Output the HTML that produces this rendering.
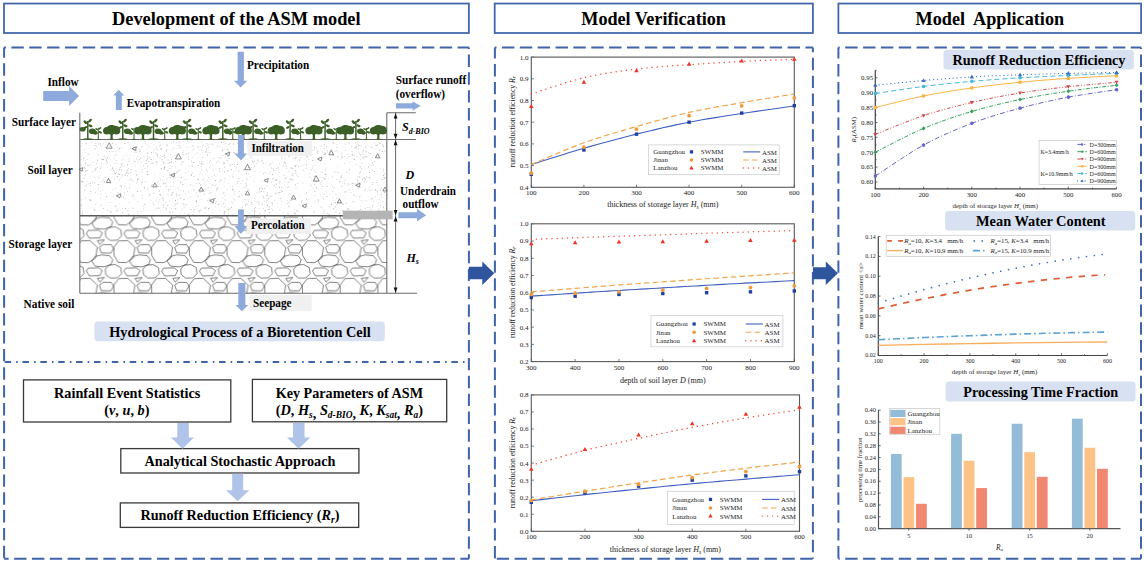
<!DOCTYPE html>
<html><head><meta charset="utf-8"><title>ASM model</title><style>html,body{margin:0;padding:0;background:#fff;overflow:hidden}svg{display:block}</style></head><body>
<svg width="1144" height="561" viewBox="0 0 1144 561" font-family="'Liberation Serif','Times New Roman',serif">
<rect width="1144" height="561" fill="#fff"/>
<defs>
<pattern id="stone" patternUnits="userSpaceOnUse" x="79.8" y="216.4" width="37.7" height="37.7"><path d="M12 7.1L15.2 2.4L21.7 0.8L29.7 1.6L32.9 5.6L31.3 10.4L24.1 12.8L15.2 12ZM6.5 17L8.5 14L19 13.8L22.5 16.5L20 21.5L9.5 21.8ZM-12.2 15L-8.7 11L-2.2 10.5L3.3 13.5L4.1 19.5L-0.2 23.8L-7.2 24L-11.7 20.5ZM25.5 15L29 11L35.5 10.5L41 13.5L41.8 19.5L37.5 23.8L30.5 24L26 20.5ZM17.6 24.2L24.6 23.5L20 28ZM19.5 31L23.5 28.2L31.5 28.3L33.8 32L31 36.8L21.5 36.5ZM-3.7 -6.7L1.3 -13.2L10.3 -13.5L17.5 -6.7L15.8 3.8L8.8 8.6L0.8 8.3L-3.4 1.3ZM-3.7 31L1.3 24.5L10.3 24.2L17.5 31L15.8 41.5L8.8 46.3L0.8 46L-3.4 39ZM34 -6.7L39 -13.2L48 -13.5L55.2 -6.7L53.5 3.8L46.5 8.6L38.5 8.3L34.3 1.3ZM34 31L39 24.5L48 24.2L55.2 31L53.5 41.5L46.5 46.3L38.5 46L34.3 39Z" fill="none" stroke="#1a1a1a" stroke-width="0.55"/></pattern>
</defs>
<rect x="4" y="3.55" width="464.9" height="29.45" fill="none" stroke="#3f64aa" stroke-width="1.75"/>
<text x="236.3" y="24.7" font-size="18.2" text-anchor="middle" font-weight="bold" textLength="248.6" lengthAdjust="spacingAndGlyphs">Development of the ASM model</text>
<rect x="494.7" y="3.55" width="318.2" height="29.45" fill="none" stroke="#3f64aa" stroke-width="1.75"/>
<text x="653.6" y="24.7" font-size="18.2" text-anchor="middle" font-weight="bold" textLength="144.7" lengthAdjust="spacingAndGlyphs">Model Verification</text>
<rect x="838.4" y="3.55" width="302.7" height="29.45" fill="none" stroke="#3f64aa" stroke-width="1.75"/>
<text x="989.8" y="24.7" font-size="18.2" text-anchor="middle" font-weight="bold" textLength="148.6" lengthAdjust="spacingAndGlyphs">Model&#160; Application</text>
<path d="M4.1 47.5H5.95M11.4 47.5H23.8M29.25 47.5H41.65M47.1 47.5H59.5M64.95 47.5H77.35M82.8 47.5H95.2M100.65 47.5H113.05M118.5 47.5H130.9M136.35 47.5H148.75M154.2 47.5H166.6M172.05 47.5H184.45M189.9 47.5H202.3M207.75 47.5H220.15M225.6 47.5H238M243.45 47.5H255.85M261.3 47.5H273.7M279.15 47.5H291.55M297 47.5H309.4M314.85 47.5H327.25M332.7 47.5H345.1M350.55 47.5H362.95M368.4 47.5H380.8M386.25 47.5H398.65M404.1 47.5H416.5M421.95 47.5H434.35M439.8 47.5H452.2M457.65 47.5H468.9M468.9 47.5V49.05M468.9 54.5V66.9M468.9 72.35V84.75M468.9 90.2V102.6M468.9 108.05V120.45M468.9 125.9V138.3M468.9 143.75V156.15M468.9 161.6V174M468.9 179.45V191.85M468.9 197.3V209.7M468.9 215.15V227.55M468.9 233V245.4M468.9 250.85V263.25M468.9 268.7V281.1M468.9 286.55V298.95M468.9 304.4V316.8M468.9 322.25V334.65M468.9 340.1V352.5M468.9 357.95V370.35M468.9 375.8V388.2M468.9 393.65V406.05M468.9 411.5V423.9M468.9 429.35V441.75M468.9 447.2V459.6M468.9 465.05V477.45M468.9 482.9V495.3M468.9 500.75V513.15M468.9 518.6V531M468.9 536.45V548.85M468.9 554.3V558.7M4.1 558.7H8.65M14.1 558.7H26.5M31.95 558.7H44.35M49.8 558.7H62.2M67.65 558.7H80.05M85.5 558.7H97.9M103.35 558.7H115.75M121.2 558.7H133.6M139.05 558.7H151.45M156.9 558.7H169.3M174.75 558.7H187.15M192.6 558.7H205M210.45 558.7H222.85M228.3 558.7H240.7M246.15 558.7H258.55M264 558.7H276.4M281.85 558.7H294.25M299.7 558.7H312.1M317.55 558.7H329.95M335.4 558.7H347.8M353.25 558.7H365.65M371.1 558.7H383.5M388.95 558.7H401.35M406.8 558.7H419.2M424.65 558.7H437.05M442.5 558.7H454.9M460.35 558.7H468.9M4.1 47.5V57.85M4.1 63.3V75.7M4.1 81.15V93.55M4.1 99V111.4M4.1 116.85V129.25M4.1 134.7V147.1M4.1 152.55V164.95M4.1 170.4V182.8M4.1 188.25V200.65M4.1 206.1V218.5M4.1 223.95V236.35M4.1 241.8V254.2M4.1 259.65V272.05M4.1 277.5V289.9M4.1 295.35V307.75M4.1 313.2V325.6M4.1 331.05V343.45M4.1 348.9V361.3M4.1 367.3V379.7M4.1 385.15V397.55M4.1 403V415.4M4.1 420.85V433.25M4.1 438.7V451.1M4.1 456.55V468.95M4.1 474.4V486.8M4.1 492.25V504.65M4.1 510.1V522.5M4.1 527.95V540.35M4.1 545.8V558.2M494.9 47.5H496.55M502 47.5H514.4M519.85 47.5H532.25M537.7 47.5H550.1M555.55 47.5H567.95M573.4 47.5H585.8M591.25 47.5H603.65M609.1 47.5H621.5M626.95 47.5H639.35M644.8 47.5H657.2M662.65 47.5H675.05M680.5 47.5H692.9M698.35 47.5H710.75M716.2 47.5H728.6M734.05 47.5H746.45M751.9 47.5H764.3M769.75 47.5H782.15M787.6 47.5H800M805.45 47.5H812.9M812.9 47.5V52.35M812.9 57.8V70.2M812.9 75.65V88.05M812.9 93.5V105.9M812.9 111.35V123.75M812.9 129.2V141.6M812.9 147.05V159.45M812.9 164.9V177.3M812.9 182.75V195.15M812.9 200.6V213M812.9 218.45V230.85M812.9 236.3V248.7M812.9 254.15V266.55M812.9 272V284.4M812.9 289.85V302.25M812.9 307.7V320.1M812.9 325.55V337.95M812.9 343.4V355.8M812.9 361.25V373.65M812.9 379.1V391.5M812.9 396.95V409.35M812.9 414.8V427.2M812.9 432.65V445.05M812.9 450.5V462.9M812.9 468.35V480.75M812.9 486.2V498.6M812.9 504.05V516.45M812.9 521.9V534.3M812.9 539.75V552.15M812.9 557.6V558.7M496.75 558.7H509.15M514.6 558.7H527M532.45 558.7H544.85M550.3 558.7H562.7M568.15 558.7H580.55M586 558.7H598.4M603.85 558.7H616.25M621.7 558.7H634.1M639.55 558.7H651.95M657.4 558.7H669.8M675.25 558.7H687.65M693.1 558.7H705.5M710.95 558.7H723.35M728.8 558.7H741.2M746.65 558.7H759.05M764.5 558.7H776.9M782.35 558.7H794.75M800.2 558.7H812.6M494.9 47.5V58.6M494.9 64.05V76.45M494.9 81.9V94.3M494.9 99.75V112.15M494.9 117.6V130M494.9 135.45V147.85M494.9 153.3V165.7M494.9 171.15V183.55M494.9 189V201.4M494.9 206.85V219.25M494.9 224.7V237.1M494.9 242.55V254.95M494.9 260.4V272.8M494.9 278.25V290.65M494.9 296.1V308.5M494.9 313.95V326.35M494.9 331.8V344.2M494.9 349.65V362.05M494.9 367.5V379.9M494.9 385.35V397.75M494.9 403.2V415.6M494.9 421.05V433.45M494.9 438.9V451.3M494.9 456.75V469.15M494.9 474.6V487M494.9 492.45V504.85M494.9 510.3V522.7M494.9 528.15V540.55M494.9 546V558.4M838.4 47.5H839.75M845.2 47.5H857.6M863.05 47.5H875.45M880.9 47.5H893.3M898.75 47.5H911.15M916.6 47.5H929M934.45 47.5H946.85M952.3 47.5H964.7M970.15 47.5H982.55M988 47.5H1000.4M1005.85 47.5H1018.25M1023.7 47.5H1036.1M1041.55 47.5H1053.95M1059.4 47.5H1071.8M1077.25 47.5H1089.65M1095.1 47.5H1107.5M1112.95 47.5H1125.35M1130.8 47.5H1141M1141 47.5V49.05M1141 54.5V66.9M1141 72.35V84.75M1141 90.2V102.6M1141 108.05V120.45M1141 125.9V138.3M1141 143.75V156.15M1141 161.6V174M1141 179.45V191.85M1141 197.3V209.7M1141 215.15V227.55M1141 233V245.4M1141 250.85V263.25M1141 268.7V281.1M1141 286.55V298.95M1141 304.4V316.8M1141 322.25V334.65M1141 340.1V352.5M1141 357.95V370.35M1141 375.8V388.2M1141 393.65V406.05M1141 411.5V423.9M1141 429.35V441.75M1141 447.2V459.6M1141 465.05V477.45M1141 482.9V495.3M1141 500.75V513.15M1141 518.6V531M1141 536.45V548.85M1141 554.3V558.7M838.4 558.7H839.75M845.2 558.7H857.6M863.05 558.7H875.45M880.9 558.7H893.3M898.75 558.7H911.15M916.6 558.7H929M934.45 558.7H946.85M952.3 558.7H964.7M970.15 558.7H982.55M988 558.7H1000.4M1005.85 558.7H1018.25M1023.7 558.7H1036.1M1041.55 558.7H1053.95M1059.4 558.7H1071.8M1077.25 558.7H1089.65M1095.1 558.7H1107.5M1112.95 558.7H1125.35M1130.8 558.7H1141M838.4 47.5V58.6M838.4 64.05V76.45M838.4 81.9V94.3M838.4 99.75V112.15M838.4 117.6V130M838.4 135.45V147.85M838.4 153.3V165.7M838.4 171.15V183.55M838.4 189V201.4M838.4 206.85V219.25M838.4 224.7V237.1M838.4 242.55V254.95M838.4 260.4V272.8M838.4 278.25V290.65M838.4 296.1V308.5M838.4 313.95V326.35M838.4 331.8V344.2M838.4 349.65V362.05M838.4 367.5V379.9M838.4 385.35V397.75M838.4 403.2V415.6M838.4 421.05V433.45M838.4 438.9V451.3M838.4 456.75V469.15M838.4 474.6V487M838.4 492.45V504.85M838.4 510.3V522.7M838.4 528.15V540.55M838.4 546V558.4" fill="none" stroke="#3f64aa" stroke-width="2.0"/>
<path d="M4.63 362H11.13M22.5 362H29M40.37 362H46.87M58.24 362H64.74M76.11 362H82.61M93.98 362H100.48M111.85 362H118.35M129.72 362H136.22M147.59 362H154.09M165.46 362H171.96M183.33 362H189.83M201.2 362H207.7M219.07 362H225.57M236.94 362H243.44M254.81 362H261.31M272.68 362H279.18M290.55 362H297.05M308.42 362H314.92M326.29 362H332.79M344.16 362H350.66M362.03 362H368.53M379.9 362H386.4M397.77 362H404.27M415.64 362H422.14M433.51 362H440.01M451.38 362H457.88M16.2 362H17.8M34.07 362H35.67M51.94 362H53.54M69.81 362H71.41M87.68 362H89.28M105.55 362H107.15M123.42 362H125.02M141.29 362H142.89M159.16 362H160.76M177.03 362H178.63M194.9 362H196.5M212.77 362H214.37M230.64 362H232.24M248.51 362H250.11M266.38 362H267.98M284.25 362H285.85M302.12 362H303.72M319.99 362H321.59M337.86 362H339.46M355.73 362H357.33M373.6 362H375.2M391.47 362H393.07M409.34 362H410.94M427.21 362H428.81M445.08 362H446.68M462.95 362H464.5" fill="none" stroke="#3f64aa" stroke-width="2.1"/>
<path d="M468.9 266.8H482.3V261.5L494.3 273.2L482.3 284.9V279.3H468.9Z" fill="#2f559f"/>
<path d="M812.9 267.3H825.8V261.5L837.9 273.3L825.8 285.1V279.3H812.9Z" fill="#2f559f"/>
<path d="M218.78 182.31h0.7v0.7h-0.7zM218.61 204.1h0.6v0.6h-0.6zM137.12 178.78h0.9v0.9h-0.9zM268.06 154.74h0.7v0.7h-0.7zM173.34 147.69h0.9v0.9h-0.9zM274.31 184.94h0.7v0.7h-0.7zM375.05 189.26h0.9v0.9h-0.9zM279.07 186.99h0.9v0.9h-0.9zM100.07 143.63h0.6v0.6h-0.6zM263.68 198.42h0.7v0.7h-0.7zM215.16 203.17h0.9v0.9h-0.9zM152.06 162.71h0.6v0.6h-0.6zM282.85 174.75h0.7v0.7h-0.7zM204.87 181.68h0.6v0.6h-0.6zM296.68 164.27h0.6v0.6h-0.6zM237.23 143.2h0.9v0.9h-0.9zM314.52 170.55h0.7v0.7h-0.7zM198.69 211.7h0.9v0.9h-0.9zM80.97 156.48h0.6v0.6h-0.6zM224.15 213.35h0.7v0.7h-0.7zM208.84 182.79h0.6v0.6h-0.6zM318.25 160.91h0.6v0.6h-0.6zM175.72 142.12h0.7v0.7h-0.7zM312 149.71h0.6v0.6h-0.6zM296.44 141.81h0.7v0.7h-0.7zM323.89 154.11h0.9v0.9h-0.9zM138.26 178.55h0.9v0.9h-0.9zM315.5 171.94h0.7v0.7h-0.7zM116.33 172.05h0.6v0.6h-0.6zM80.94 204.79h0.9v0.9h-0.9zM173.56 206.3h0.6v0.6h-0.6zM137.93 214.49h0.9v0.9h-0.9zM276.56 148.4h0.6v0.6h-0.6zM145.84 160.06h0.9v0.9h-0.9zM181.13 162.87h0.6v0.6h-0.6zM103.46 156.4h0.9v0.9h-0.9zM154.92 185.37h0.7v0.7h-0.7zM270.56 150.39h0.9v0.9h-0.9zM228.34 183.4h0.7v0.7h-0.7zM136.56 152.38h0.6v0.6h-0.6zM330.23 159.41h0.6v0.6h-0.6zM129.14 187.42h0.9v0.9h-0.9zM140.76 211.12h0.7v0.7h-0.7zM264.88 172.1h0.6v0.6h-0.6zM114.06 178.81h0.7v0.7h-0.7zM153.51 193h0.7v0.7h-0.7zM209.15 207.78h0.7v0.7h-0.7zM170.3 153.95h0.9v0.9h-0.9zM378.84 150.33h0.7v0.7h-0.7zM251.41 203.91h0.9v0.9h-0.9zM103.41 156.68h0.6v0.6h-0.6zM309.24 146.1h0.7v0.7h-0.7zM216.74 145.46h0.6v0.6h-0.6zM166.8 180.19h0.6v0.6h-0.6zM108.92 151.21h0.7v0.7h-0.7zM379.85 189.48h0.9v0.9h-0.9zM239.99 210.88h0.9v0.9h-0.9zM91.5 142.32h0.7v0.7h-0.7zM294.6 212.05h0.6v0.6h-0.6zM263.3 146.52h0.6v0.6h-0.6zM303.6 164.54h0.6v0.6h-0.6zM103.76 181.3h0.9v0.9h-0.9zM94.36 210.1h0.9v0.9h-0.9zM295.43 199.54h0.7v0.7h-0.7zM188.11 191.56h0.6v0.6h-0.6zM346.49 171.79h0.6v0.6h-0.6zM344.16 183.27h0.9v0.9h-0.9zM282.79 168.98h0.6v0.6h-0.6zM266.5 146.92h0.9v0.9h-0.9zM116.05 159.98h0.7v0.7h-0.7zM302.9 169.67h0.9v0.9h-0.9zM292.52 174.78h0.7v0.7h-0.7zM336.5 147.18h0.9v0.9h-0.9zM89.89 185.37h0.7v0.7h-0.7zM87.6 211.66h0.6v0.6h-0.6zM232.46 186.35h0.7v0.7h-0.7zM158.83 141.83h0.7v0.7h-0.7zM124.48 186.15h0.9v0.9h-0.9zM132.53 207.84h0.9v0.9h-0.9zM364.54 177.78h0.6v0.6h-0.6zM180.52 190.14h0.6v0.6h-0.6zM274.22 200.31h0.6v0.6h-0.6zM349.28 169.37h0.9v0.9h-0.9zM361.65 156.49h0.6v0.6h-0.6zM232.22 202.78h0.6v0.6h-0.6zM297.72 211.11h0.7v0.7h-0.7zM331.47 149.33h0.7v0.7h-0.7zM164.72 156.8h0.7v0.7h-0.7zM197.48 179.37h0.9v0.9h-0.9zM176.99 202.93h0.9v0.9h-0.9zM218.81 146.51h0.6v0.6h-0.6zM165.63 185.84h0.9v0.9h-0.9zM296.93 183.11h0.7v0.7h-0.7zM278.83 182.63h0.9v0.9h-0.9zM122.24 174.57h0.6v0.6h-0.6zM315.41 160.66h0.6v0.6h-0.6zM323.84 213.62h0.6v0.6h-0.6zM216.98 187.49h0.9v0.9h-0.9zM275.97 168.21h0.6v0.6h-0.6zM289.57 155.71h0.7v0.7h-0.7zM158.89 193.71h0.7v0.7h-0.7zM243.93 143.67h0.6v0.6h-0.6zM163.87 166.52h0.9v0.9h-0.9zM369.58 177.93h0.6v0.6h-0.6zM200.82 199.44h0.6v0.6h-0.6zM107.4 209.83h0.9v0.9h-0.9zM199.13 174.25h0.6v0.6h-0.6zM271.59 208.16h0.7v0.7h-0.7zM248.55 189.17h0.9v0.9h-0.9zM323.81 210.69h0.7v0.7h-0.7zM180.37 213.5h0.6v0.6h-0.6zM300.99 201.39h0.9v0.9h-0.9zM362.69 150.11h0.6v0.6h-0.6zM355.3 213.36h0.7v0.7h-0.7zM244.57 199.36h0.7v0.7h-0.7zM160.67 194.01h0.6v0.6h-0.6zM187.09 147.11h0.7v0.7h-0.7zM185.13 172.1h0.7v0.7h-0.7zM229.47 143.1h0.6v0.6h-0.6zM211.62 143.59h0.9v0.9h-0.9zM182.98 199.15h0.6v0.6h-0.6zM224.32 214.79h0.9v0.9h-0.9zM238.85 191.03h0.7v0.7h-0.7zM369.25 177.35h0.9v0.9h-0.9zM107.04 157.34h0.9v0.9h-0.9zM251.23 202.34h0.9v0.9h-0.9zM275.66 179.58h0.9v0.9h-0.9zM159.04 190.54h0.9v0.9h-0.9zM144.31 203.79h0.9v0.9h-0.9zM240.69 183.29h0.6v0.6h-0.6zM206.18 149.43h0.6v0.6h-0.6zM265.39 143.05h0.6v0.6h-0.6zM238.19 170.56h0.9v0.9h-0.9zM117.99 147.88h0.6v0.6h-0.6zM100.9 180.76h0.7v0.7h-0.7zM361.64 200.07h0.7v0.7h-0.7zM162.91 175.92h0.6v0.6h-0.6zM184.4 207.49h0.7v0.7h-0.7zM240.92 149.02h0.7v0.7h-0.7zM269.26 209.28h0.6v0.6h-0.6zM294.94 213.12h0.6v0.6h-0.6zM140 157.77h0.9v0.9h-0.9zM167.44 194.4h0.6v0.6h-0.6zM269.83 148.74h0.9v0.9h-0.9zM258.38 203.87h0.9v0.9h-0.9zM157.22 155.59h0.9v0.9h-0.9zM348.81 142.72h0.9v0.9h-0.9zM206.89 180.07h0.6v0.6h-0.6zM244.95 204.75h0.9v0.9h-0.9zM275.53 180.09h0.9v0.9h-0.9zM267.37 204.23h0.6v0.6h-0.6zM359.82 187.34h0.7v0.7h-0.7zM356.12 164.31h0.7v0.7h-0.7zM352.45 155.37h0.6v0.6h-0.6zM351.5 150.88h0.6v0.6h-0.6zM121.23 147.51h0.7v0.7h-0.7zM110.39 202.41h0.7v0.7h-0.7zM246.5 193.02h0.6v0.6h-0.6zM203.65 191.57h0.6v0.6h-0.6zM110.1 183.06h0.7v0.7h-0.7zM358.77 212.47h0.6v0.6h-0.6zM295.74 187.84h0.7v0.7h-0.7zM234.15 191.6h0.6v0.6h-0.6zM325.67 176.58h0.6v0.6h-0.6zM92.22 181.71h0.9v0.9h-0.9zM356.86 176.52h0.6v0.6h-0.6zM137.08 156.05h0.6v0.6h-0.6zM382.84 209.4h0.6v0.6h-0.6zM257.63 150.92h0.9v0.9h-0.9zM221.73 197.44h0.7v0.7h-0.7zM200.02 172.47h0.7v0.7h-0.7zM211.97 185.35h0.6v0.6h-0.6zM274.17 144.02h0.6v0.6h-0.6zM136.09 174.5h0.9v0.9h-0.9zM193.71 209.03h0.9v0.9h-0.9zM131.15 178.83h0.6v0.6h-0.6zM179.53 147.26h0.9v0.9h-0.9zM347.87 208.07h0.7v0.7h-0.7zM254.55 155.09h0.9v0.9h-0.9zM380.52 200.4h0.7v0.7h-0.7zM166.05 149.58h0.9v0.9h-0.9zM318.09 201.12h0.7v0.7h-0.7zM121.43 165.35h0.9v0.9h-0.9zM292.71 197.62h0.6v0.6h-0.6zM204.55 194.33h0.6v0.6h-0.6zM323.99 163.26h0.6v0.6h-0.6zM84.03 167.25h0.9v0.9h-0.9zM356.12 144.66h0.7v0.7h-0.7zM368.93 190.16h0.7v0.7h-0.7zM146.69 170.97h0.6v0.6h-0.6zM243.39 169.75h0.7v0.7h-0.7zM276.69 192.75h0.7v0.7h-0.7zM379.73 142.68h0.9v0.9h-0.9zM113.76 158.49h0.7v0.7h-0.7zM203.27 144.72h0.6v0.6h-0.6zM278.44 141.8h0.7v0.7h-0.7zM157.32 207.84h0.9v0.9h-0.9zM245.65 171.68h0.9v0.9h-0.9zM254.03 214.44h0.9v0.9h-0.9zM216.32 188.58h0.9v0.9h-0.9zM263.05 197.03h0.6v0.6h-0.6zM198.66 210.27h0.7v0.7h-0.7zM224.69 153.48h0.7v0.7h-0.7zM246.1 185.03h0.7v0.7h-0.7zM369.11 172.05h0.9v0.9h-0.9zM202.36 164.05h0.9v0.9h-0.9zM167.95 189.35h0.9v0.9h-0.9zM364.29 189.97h0.9v0.9h-0.9zM171.09 142.03h0.6v0.6h-0.6zM259.47 187.71h0.7v0.7h-0.7zM310.97 169.78h0.7v0.7h-0.7zM309.05 144.7h0.9v0.9h-0.9zM368.86 146.42h0.6v0.6h-0.6zM211.8 176.25h0.6v0.6h-0.6zM94.66 148.27h0.9v0.9h-0.9zM358.19 151.65h0.6v0.6h-0.6zM264.91 149.49h0.9v0.9h-0.9zM208.03 149.71h0.6v0.6h-0.6zM189.59 152.42h0.7v0.7h-0.7zM215.87 190.29h0.7v0.7h-0.7zM264.12 188.2h0.9v0.9h-0.9zM208.76 198.41h0.9v0.9h-0.9zM329.42 151.11h0.7v0.7h-0.7zM304.76 158.59h0.6v0.6h-0.6zM234.2 163.77h0.9v0.9h-0.9zM271.42 167.51h0.7v0.7h-0.7zM266.79 194.51h0.9v0.9h-0.9zM261.26 187.72h0.6v0.6h-0.6zM138.69 159.37h0.9v0.9h-0.9zM360.1 205.85h0.6v0.6h-0.6zM272.46 141.7h0.7v0.7h-0.7zM210.48 187h0.6v0.6h-0.6zM148.68 161.54h0.6v0.6h-0.6zM359.23 152.87h0.6v0.6h-0.6zM273.29 168.54h0.7v0.7h-0.7zM188.8 165.96h0.7v0.7h-0.7zM307.97 202.89h0.6v0.6h-0.6zM325.49 174.01h0.9v0.9h-0.9zM336.39 197.75h0.7v0.7h-0.7zM210.23 160.05h0.6v0.6h-0.6zM193.33 189.24h0.9v0.9h-0.9zM180.04 181.49h0.9v0.9h-0.9zM332.78 154.57h0.9v0.9h-0.9zM193.42 148.16h0.7v0.7h-0.7zM104.74 147.13h0.9v0.9h-0.9zM254.03 201.17h0.7v0.7h-0.7zM171.96 198.23h0.6v0.6h-0.6zM175.39 208.21h0.9v0.9h-0.9zM105.72 163.42h0.9v0.9h-0.9zM313.87 165.2h0.6v0.6h-0.6zM147.52 189.51h0.7v0.7h-0.7zM192.55 149.66h0.9v0.9h-0.9zM215.3 184.89h0.9v0.9h-0.9zM359.38 173.32h0.7v0.7h-0.7zM220.57 157.33h0.9v0.9h-0.9zM353.69 159.32h0.7v0.7h-0.7zM333.5 142.78h0.9v0.9h-0.9zM201.46 169.6h0.6v0.6h-0.6zM306.14 168.18h0.7v0.7h-0.7zM245.67 202.72h0.9v0.9h-0.9zM134.87 147.62h0.7v0.7h-0.7zM349.47 161.77h0.6v0.6h-0.6zM148.28 145.26h0.6v0.6h-0.6zM253.88 212.32h0.9v0.9h-0.9zM337.51 172.2h0.9v0.9h-0.9zM247.58 199.16h0.6v0.6h-0.6zM182.83 161.19h0.6v0.6h-0.6zM355.02 147.25h0.9v0.9h-0.9zM280.13 148.19h0.9v0.9h-0.9zM209.53 193.56h0.7v0.7h-0.7zM314.23 179.49h0.7v0.7h-0.7zM201.09 165.93h0.7v0.7h-0.7zM285.88 177.43h0.9v0.9h-0.9zM326.26 146.35h0.9v0.9h-0.9zM359.87 171.3h0.9v0.9h-0.9zM187.3 141.29h0.7v0.7h-0.7zM335.12 206.58h0.9v0.9h-0.9zM276.08 179.66h0.9v0.9h-0.9zM83.9 149.11h0.7v0.7h-0.7zM360.05 159.13h0.6v0.6h-0.6zM383.06 168.71h0.6v0.6h-0.6zM178.67 169.73h0.9v0.9h-0.9zM169.87 212.57h0.6v0.6h-0.6zM224.59 194.93h0.7v0.7h-0.7zM278.43 198.26h0.6v0.6h-0.6zM359.02 196.58h0.6v0.6h-0.6zM258.94 208.11h0.6v0.6h-0.6zM176.13 155.58h0.7v0.7h-0.7zM147.1 158.37h0.9v0.9h-0.9zM224.73 178.54h0.7v0.7h-0.7zM137.22 161.74h0.6v0.6h-0.6zM358.56 210.18h0.9v0.9h-0.9zM248.01 201.3h0.7v0.7h-0.7zM341.08 176.78h0.7v0.7h-0.7zM359.65 166.25h0.9v0.9h-0.9zM316.16 147.82h0.6v0.6h-0.6zM202.62 157.05h0.6v0.6h-0.6zM325.23 169.41h0.9v0.9h-0.9zM323.19 198.13h0.6v0.6h-0.6zM281.35 158.54h0.6v0.6h-0.6zM347.39 207.81h0.7v0.7h-0.7zM323.82 193.64h0.9v0.9h-0.9zM347.62 171.68h0.7v0.7h-0.7zM124.95 208.02h0.9v0.9h-0.9zM120.79 195.74h0.9v0.9h-0.9zM162.09 180.45h0.6v0.6h-0.6zM255.22 154.16h0.6v0.6h-0.6zM331.33 203.45h0.6v0.6h-0.6zM105.94 160.92h0.9v0.9h-0.9zM241.82 206.66h0.9v0.9h-0.9zM223.74 211.52h0.9v0.9h-0.9zM246.54 178.34h0.6v0.6h-0.6zM321.54 171.77h0.9v0.9h-0.9zM108.54 201.98h0.6v0.6h-0.6zM92.15 171.49h0.7v0.7h-0.7zM128.85 202.4h0.7v0.7h-0.7zM177.21 170.92h0.9v0.9h-0.9zM174.04 175.48h0.9v0.9h-0.9zM101.25 146.49h0.6v0.6h-0.6zM113.05 170.09h0.7v0.7h-0.7zM308.52 198.89h0.6v0.6h-0.6zM280.25 141.91h0.7v0.7h-0.7zM297.89 176.07h0.7v0.7h-0.7zM252.86 174.81h0.6v0.6h-0.6zM341.9 203.32h0.9v0.9h-0.9zM143.85 186.47h0.7v0.7h-0.7zM272.27 210.18h0.9v0.9h-0.9zM171.75 165.9h0.7v0.7h-0.7zM250.25 147.42h0.6v0.6h-0.6zM141.78 194.98h0.7v0.7h-0.7zM175.26 161.21h0.7v0.7h-0.7zM301.56 165.48h0.7v0.7h-0.7zM108.94 151.39h0.6v0.6h-0.6zM120.89 187.52h0.6v0.6h-0.6zM135.66 170.69h0.7v0.7h-0.7zM261.59 147.65h0.6v0.6h-0.6zM90.67 213.87h0.7v0.7h-0.7zM204.89 146.36h0.7v0.7h-0.7zM363.5 151.26h0.6v0.6h-0.6zM314.69 201.6h0.7v0.7h-0.7zM228.04 208.99h0.9v0.9h-0.9zM85.5 170.57h0.9v0.9h-0.9zM177.7 199.21h0.6v0.6h-0.6zM282.17 185.91h0.6v0.6h-0.6zM160.32 154.93h0.7v0.7h-0.7zM279.27 148.84h0.7v0.7h-0.7zM143.29 165.56h0.7v0.7h-0.7zM332.48 186.12h0.6v0.6h-0.6zM158.23 180.77h0.7v0.7h-0.7zM248.02 167.02h0.9v0.9h-0.9zM237.4 183.37h0.6v0.6h-0.6zM381.77 179.08h0.9v0.9h-0.9zM296.38 210.07h0.9v0.9h-0.9zM368.99 187.28h0.6v0.6h-0.6zM317.67 151.06h0.7v0.7h-0.7zM256.63 192.45h0.7v0.7h-0.7zM108.79 205.39h0.7v0.7h-0.7zM222.03 150.15h0.9v0.9h-0.9zM122.16 207.72h0.9v0.9h-0.9zM247.38 145.69h0.7v0.7h-0.7zM132.2 196.03h0.7v0.7h-0.7zM264.26 150.05h0.6v0.6h-0.6zM168.82 207.2h0.6v0.6h-0.6zM312.09 167.8h0.6v0.6h-0.6zM137.4 181.43h0.6v0.6h-0.6zM219.38 170.77h0.9v0.9h-0.9zM122.97 196.8h0.9v0.9h-0.9zM357.27 186.4h0.9v0.9h-0.9zM325.96 142.21h0.6v0.6h-0.6zM206.46 143.44h0.9v0.9h-0.9zM198.65 183.03h0.6v0.6h-0.6zM183.35 150.7h0.6v0.6h-0.6zM254.05 165.51h0.9v0.9h-0.9zM319.91 194.26h0.6v0.6h-0.6zM203.77 177.72h0.6v0.6h-0.6zM224.12 171.36h0.9v0.9h-0.9zM359.28 182.68h0.7v0.7h-0.7zM310.07 176.85h0.7v0.7h-0.7zM336.46 204.1h0.7v0.7h-0.7zM332.46 149.66h0.6v0.6h-0.6zM356.9 179.82h0.9v0.9h-0.9zM239.61 172.02h0.6v0.6h-0.6zM178.61 145.04h0.9v0.9h-0.9zM268.74 172.97h0.7v0.7h-0.7zM263.04 196.49h0.7v0.7h-0.7zM349.99 205.73h0.6v0.6h-0.6zM118.76 173.99h0.9v0.9h-0.9zM347.08 212.77h0.7v0.7h-0.7zM292.75 179.84h0.6v0.6h-0.6zM247.02 189.48h0.6v0.6h-0.6zM349.12 214.75h0.9v0.9h-0.9zM375.57 190.13h0.9v0.9h-0.9zM209.33 200.43h0.6v0.6h-0.6zM278.9 172.11h0.6v0.6h-0.6zM356.34 148.27h0.6v0.6h-0.6zM118.56 180.67h0.7v0.7h-0.7zM80.98 159h0.7v0.7h-0.7zM88.1 153.69h0.7v0.7h-0.7zM353.81 201.18h0.7v0.7h-0.7zM123.89 192.09h0.6v0.6h-0.6zM94.8 143.3h0.7v0.7h-0.7zM174.69 177.78h0.7v0.7h-0.7zM348.81 155.96h0.9v0.9h-0.9zM354.32 155.43h0.7v0.7h-0.7zM355.1 142.18h0.9v0.9h-0.9zM349.11 214.46h0.6v0.6h-0.6zM243.39 158.43h0.6v0.6h-0.6zM279.08 163.59h0.7v0.7h-0.7zM374.01 161.21h0.7v0.7h-0.7zM298.31 150.95h0.9v0.9h-0.9zM372.67 198.48h0.7v0.7h-0.7zM104.89 157.47h0.7v0.7h-0.7zM117.6 192.01h0.7v0.7h-0.7zM136.01 158.38h0.9v0.9h-0.9zM170.92 161.17h0.9v0.9h-0.9zM240.74 149.54h0.9v0.9h-0.9zM150.64 163.21h0.6v0.6h-0.6zM284.25 161.43h0.9v0.9h-0.9zM284.48 175.15h0.6v0.6h-0.6zM215.1 179.99h0.9v0.9h-0.9zM357.56 141.51h0.9v0.9h-0.9zM167.58 159.52h0.9v0.9h-0.9zM107.39 162.04h0.6v0.6h-0.6zM155.8 161.6h0.9v0.9h-0.9zM89.59 199.33h0.6v0.6h-0.6zM382.06 143.48h0.7v0.7h-0.7zM360.31 184.17h0.6v0.6h-0.6zM364.23 177.89h0.6v0.6h-0.6zM100.33 198.33h0.7v0.7h-0.7zM178.64 176.68h0.6v0.6h-0.6zM238.4 178.32h0.9v0.9h-0.9zM289.5 179.41h0.9v0.9h-0.9zM133.85 198.54h0.6v0.6h-0.6zM114.99 173.14h0.9v0.9h-0.9zM215.13 198.05h0.9v0.9h-0.9zM322.1 158.41h0.7v0.7h-0.7zM246.77 203.92h0.9v0.9h-0.9zM232.98 143.61h0.9v0.9h-0.9zM376.84 144.88h0.7v0.7h-0.7zM347.03 154.29h0.6v0.6h-0.6zM266.33 185.91h0.7v0.7h-0.7zM234.43 194.37h0.6v0.6h-0.6zM102.92 207.96h0.9v0.9h-0.9zM275.96 183.77h0.9v0.9h-0.9zM153.38 151.79h0.7v0.7h-0.7zM210.53 192.34h0.9v0.9h-0.9zM306.03 198.62h0.9v0.9h-0.9zM232.8 188.97h0.9v0.9h-0.9zM133.14 159.81h0.6v0.6h-0.6zM232.35 189.63h0.9v0.9h-0.9zM320.74 145.51h0.7v0.7h-0.7zM223.19 192.56h0.9v0.9h-0.9zM376.81 144.11h0.7v0.7h-0.7zM311.2 185.34h0.6v0.6h-0.6zM124.9 174.6h0.9v0.9h-0.9zM381.42 141.25h0.7v0.7h-0.7zM352.28 151.45h0.7v0.7h-0.7zM250.41 175.83h0.6v0.6h-0.6zM377.15 191.17h0.9v0.9h-0.9zM313.6 195.17h0.6v0.6h-0.6zM170.99 149.77h0.6v0.6h-0.6zM208.39 147.35h0.6v0.6h-0.6zM191.82 165.87h0.9v0.9h-0.9zM147.39 152.84h0.9v0.9h-0.9zM278.99 145.32h0.7v0.7h-0.7zM253.86 208.31h0.9v0.9h-0.9zM362.59 154.08h0.7v0.7h-0.7zM366.11 156.74h0.7v0.7h-0.7zM319.11 156.9h0.7v0.7h-0.7zM155.98 199.54h0.6v0.6h-0.6zM227.26 170.54h0.9v0.9h-0.9zM223.45 163.77h0.7v0.7h-0.7zM230.32 187.25h0.6v0.6h-0.6zM343.93 156.1h0.7v0.7h-0.7zM208.65 144.48h0.7v0.7h-0.7zM191.46 161.26h0.6v0.6h-0.6zM239.07 195.73h0.9v0.9h-0.9zM200.65 209.16h0.9v0.9h-0.9zM147.15 148.63h0.6v0.6h-0.6zM127.62 210.12h0.7v0.7h-0.7zM122.61 158.78h0.6v0.6h-0.6zM87.02 164.77h0.7v0.7h-0.7zM218.03 204.07h0.7v0.7h-0.7zM180 197.88h0.9v0.9h-0.9zM284.91 163.31h0.9v0.9h-0.9zM153.48 144.01h0.6v0.6h-0.6zM237.54 150.42h0.6v0.6h-0.6zM176.05 172.3h0.9v0.9h-0.9zM292.47 179.15h0.9v0.9h-0.9zM160.22 194.54h0.9v0.9h-0.9zM195.78 205.95h0.7v0.7h-0.7zM243.97 174.16h0.6v0.6h-0.6zM198.68 204.91h0.6v0.6h-0.6zM112.1 168.34h0.9v0.9h-0.9zM146.61 144h0.6v0.6h-0.6zM308.67 176.63h0.6v0.6h-0.6zM327.47 213h0.7v0.7h-0.7zM282.23 145.94h0.6v0.6h-0.6zM251.03 167.08h0.6v0.6h-0.6zM372.12 205.09h0.6v0.6h-0.6zM319.71 160.16h0.7v0.7h-0.7zM117.34 177.38h0.7v0.7h-0.7zM197.72 165.22h0.7v0.7h-0.7zM295.32 157.36h0.7v0.7h-0.7zM142.38 197.7h0.7v0.7h-0.7zM283.69 158.7h0.6v0.6h-0.6zM307.35 207.97h0.6v0.6h-0.6zM226.68 159.97h0.9v0.9h-0.9zM174.9 208.49h0.7v0.7h-0.7zM117.5 208.13h0.7v0.7h-0.7zM163.76 168.84h0.9v0.9h-0.9zM172.3 194.08h0.7v0.7h-0.7zM102.84 143.61h0.7v0.7h-0.7zM352.79 182.75h0.7v0.7h-0.7zM329.42 206.46h0.9v0.9h-0.9zM223.92 186.41h0.7v0.7h-0.7zM90.26 193.2h0.6v0.6h-0.6zM316.1 187.3h0.9v0.9h-0.9zM246.37 186.23h0.6v0.6h-0.6zM165.03 202.22h0.7v0.7h-0.7zM197.27 208.13h0.6v0.6h-0.6zM325.97 191.44h0.7v0.7h-0.7zM174.93 167.6h0.6v0.6h-0.6zM126.51 155.2h0.6v0.6h-0.6zM159.54 157.24h0.9v0.9h-0.9zM81.08 181.13h0.7v0.7h-0.7zM81.87 181.37h0.9v0.9h-0.9zM314.21 146.83h0.9v0.9h-0.9zM350.47 192h0.7v0.7h-0.7zM161.34 148.67h0.6v0.6h-0.6zM176.37 193.84h0.9v0.9h-0.9zM201.65 152.54h0.6v0.6h-0.6zM332.24 152.77h0.9v0.9h-0.9zM291.02 200.41h0.7v0.7h-0.7zM193.5 162.09h0.9v0.9h-0.9zM284.55 177.78h0.9v0.9h-0.9zM156.84 164.98h0.6v0.6h-0.6zM360.62 195.43h0.6v0.6h-0.6zM382.5 201.36h0.9v0.9h-0.9zM175.4 203.65h0.9v0.9h-0.9zM316.29 176.48h0.6v0.6h-0.6zM270.38 171.46h0.7v0.7h-0.7zM97.1 159.74h0.9v0.9h-0.9zM306.34 192.2h0.7v0.7h-0.7zM299.16 159.58h0.9v0.9h-0.9zM289.07 154.55h0.6v0.6h-0.6zM337.83 202.15h0.9v0.9h-0.9zM380.74 188.32h0.6v0.6h-0.6zM270.81 202.33h0.6v0.6h-0.6zM118.99 168.82h0.9v0.9h-0.9zM169.85 189.12h0.6v0.6h-0.6zM224.71 192.2h0.6v0.6h-0.6zM162.55 161.01h0.7v0.7h-0.7zM273.4 170.28h0.9v0.9h-0.9zM382.39 144.59h0.9v0.9h-0.9zM384.99 205.27h0.6v0.6h-0.6zM168.04 194.97h0.6v0.6h-0.6zM204.2 207.77h0.9v0.9h-0.9zM341.75 153.64h0.6v0.6h-0.6zM175.11 200.08h0.9v0.9h-0.9zM167.34 169.91h0.9v0.9h-0.9zM205.3 151.48h0.9v0.9h-0.9zM199.55 192.22h0.9v0.9h-0.9zM167.02 204.96h0.7v0.7h-0.7zM134.2 148.91h0.7v0.7h-0.7zM349.36 172.93h0.6v0.6h-0.6zM179.51 142.42h0.9v0.9h-0.9zM254.29 161.2h0.7v0.7h-0.7zM164.37 157.79h0.7v0.7h-0.7zM142.14 181.7h0.9v0.9h-0.9zM96.43 145.75h0.7v0.7h-0.7zM285.23 141.3h0.7v0.7h-0.7zM228.25 214.59h0.6v0.6h-0.6zM383.25 171.15h0.6v0.6h-0.6zM207.25 200.56h0.7v0.7h-0.7zM250.8 156.86h0.9v0.9h-0.9zM281.15 186.98h0.7v0.7h-0.7zM138.33 162.46h0.6v0.6h-0.6zM384.06 173.71h0.9v0.9h-0.9zM95.13 204.27h0.6v0.6h-0.6zM245.2 190.8h0.7v0.7h-0.7zM190.27 196.61h0.7v0.7h-0.7zM100 175.38h0.6v0.6h-0.6zM100.23 167.9h0.9v0.9h-0.9zM161.61 159.08h0.9v0.9h-0.9zM231.77 163.73h0.9v0.9h-0.9zM333.24 197.66h0.6v0.6h-0.6zM366.32 176.58h0.9v0.9h-0.9zM205.4 207.35h0.9v0.9h-0.9zM87.97 183.57h0.6v0.6h-0.6zM179.5 194.46h0.9v0.9h-0.9zM281.17 200.83h0.7v0.7h-0.7zM272.01 174.19h0.7v0.7h-0.7zM165.96 207.8h0.7v0.7h-0.7zM262.03 160.53h0.6v0.6h-0.6zM307 156.6h0.9v0.9h-0.9zM120.68 163.47h0.6v0.6h-0.6zM134.87 148.81h0.6v0.6h-0.6zM194.5 154.46h0.6v0.6h-0.6zM83.68 178.09h0.7v0.7h-0.7zM109.7 211.16h0.6v0.6h-0.6zM87.15 153.88h0.6v0.6h-0.6zM310.81 149h0.7v0.7h-0.7zM211.98 212.04h0.6v0.6h-0.6zM233.08 198.59h0.6v0.6h-0.6zM328.64 146.16h0.7v0.7h-0.7zM369.84 164.78h0.6v0.6h-0.6zM317.99 179.75h0.6v0.6h-0.6zM125.98 187.84h0.7v0.7h-0.7zM358.67 145.08h0.9v0.9h-0.9zM268.76 206.51h0.9v0.9h-0.9zM272.53 178.26h0.9v0.9h-0.9zM362.87 149.96h0.9v0.9h-0.9zM291.2 174.45h0.9v0.9h-0.9zM223.31 202.74h0.9v0.9h-0.9zM150.96 185.33h0.9v0.9h-0.9zM93.78 208.89h0.9v0.9h-0.9zM272.14 173.97h0.9v0.9h-0.9zM94.88 145.03h0.7v0.7h-0.7zM127.14 175.59h0.7v0.7h-0.7zM305.89 164.1h0.9v0.9h-0.9zM223.83 181.72h0.6v0.6h-0.6zM345.38 150.35h0.7v0.7h-0.7zM114.67 154.8h0.9v0.9h-0.9zM321.73 151.51h0.6v0.6h-0.6zM324.09 178.76h0.7v0.7h-0.7zM100.57 205.21h0.9v0.9h-0.9zM185.24 179.2h0.7v0.7h-0.7zM219.29 180.58h0.7v0.7h-0.7zM140.58 161.64h0.9v0.9h-0.9zM153.55 148.92h0.7v0.7h-0.7zM320.87 177.22h0.6v0.6h-0.6zM102.81 177.65h0.6v0.6h-0.6zM315.89 181.54h0.6v0.6h-0.6zM323.81 152.2h0.7v0.7h-0.7zM135.25 165.63h0.7v0.7h-0.7zM372.15 157.21h0.7v0.7h-0.7zM116.61 154.41h0.7v0.7h-0.7zM90.3 191.32h0.7v0.7h-0.7zM355.85 146.31h0.9v0.9h-0.9zM143.85 187.44h0.9v0.9h-0.9zM376.7 182.33h0.7v0.7h-0.7zM196.16 201.26h0.9v0.9h-0.9zM176.98 187.47h0.7v0.7h-0.7zM281.57 156.39h0.6v0.6h-0.6zM135.91 150.45h0.9v0.9h-0.9zM257.86 144.05h0.7v0.7h-0.7zM116.19 210.45h0.9v0.9h-0.9zM270.77 163.67h0.6v0.6h-0.6zM384.23 192.04h0.9v0.9h-0.9zM299.7 205.24h0.7v0.7h-0.7zM141.86 146.27h0.7v0.7h-0.7zM210.34 201.53h0.7v0.7h-0.7zM165.97 150.87h0.6v0.6h-0.6zM368 166.56h0.9v0.9h-0.9zM208.25 177.35h0.6v0.6h-0.6zM167.69 205.4h0.7v0.7h-0.7zM371.16 146.77h0.9v0.9h-0.9zM219.55 209.91h0.7v0.7h-0.7zM141.41 171.56h0.6v0.6h-0.6zM217.56 145.74h0.7v0.7h-0.7zM182.45 184.12h0.9v0.9h-0.9zM371.93 162.62h0.9v0.9h-0.9zM84.67 186.06h0.6v0.6h-0.6zM206.32 150.75h0.7v0.7h-0.7zM199.17 161.54h0.6v0.6h-0.6zM331.06 203.75h0.9v0.9h-0.9zM112.63 189.52h0.7v0.7h-0.7zM354.24 147.52h0.7v0.7h-0.7zM85.73 143.23h0.9v0.9h-0.9zM284.9 166.38h0.6v0.6h-0.6zM284.53 152.49h0.6v0.6h-0.6zM191.13 175.31h0.7v0.7h-0.7zM227.09 189.11h0.6v0.6h-0.6zM376.77 213.06h0.7v0.7h-0.7zM212.98 157.97h0.9v0.9h-0.9zM294.62 214.63h0.6v0.6h-0.6zM385.72 189.43h0.9v0.9h-0.9zM365.08 179.22h0.9v0.9h-0.9zM144.68 168.3h0.6v0.6h-0.6zM238.05 148.08h0.6v0.6h-0.6zM81.9 211.73h0.9v0.9h-0.9zM270.82 195.76h0.7v0.7h-0.7zM283.12 212.58h0.7v0.7h-0.7zM317.48 149.83h0.7v0.7h-0.7zM128.32 168.37h0.7v0.7h-0.7zM368.88 207.11h0.6v0.6h-0.6zM114.01 171.48h0.9v0.9h-0.9zM243.57 149.21h0.6v0.6h-0.6zM172.78 178.44h0.6v0.6h-0.6zM101.46 158.55h0.9v0.9h-0.9zM107.75 178.8h0.7v0.7h-0.7zM188.39 159.15h0.9v0.9h-0.9zM207.05 145.01h0.6v0.6h-0.6zM260.41 153.56h0.6v0.6h-0.6zM220.91 203.78h0.6v0.6h-0.6zM327.75 178.18h0.6v0.6h-0.6zM376.75 179.74h0.7v0.7h-0.7zM269.29 212.1h0.9v0.9h-0.9zM374.75 171.51h0.6v0.6h-0.6zM150.61 199.83h0.6v0.6h-0.6zM304.8 193.59h0.6v0.6h-0.6zM170.51 186.65h0.7v0.7h-0.7zM114.43 163.2h0.9v0.9h-0.9zM276.93 203.56h0.6v0.6h-0.6zM199.68 163.1h0.6v0.6h-0.6zM160.35 149.25h0.7v0.7h-0.7zM181.08 177.09h0.9v0.9h-0.9zM383.73 182.34h0.6v0.6h-0.6zM254.01 177.97h0.6v0.6h-0.6zM201.11 163.09h0.9v0.9h-0.9zM263.73 157.24h0.6v0.6h-0.6zM211.72 176.19h0.7v0.7h-0.7zM278.66 165.64h0.6v0.6h-0.6zM95.92 202.67h0.6v0.6h-0.6zM130.59 169.2h0.7v0.7h-0.7zM202.72 157.43h0.6v0.6h-0.6zM298.3 143.39h0.7v0.7h-0.7zM228.42 158h0.9v0.9h-0.9zM241.49 195.11h0.7v0.7h-0.7zM204.82 212.31h0.6v0.6h-0.6zM290.51 167.36h0.6v0.6h-0.6zM192.32 185.14h0.7v0.7h-0.7zM337.02 156.48h0.9v0.9h-0.9zM97.89 154.56h0.6v0.6h-0.6zM238.24 196.63h0.6v0.6h-0.6zM341.81 156.74h0.9v0.9h-0.9zM163.19 199.72h0.7v0.7h-0.7zM278.2 168.55h0.6v0.6h-0.6zM167.96 191.18h0.6v0.6h-0.6zM201.79 157.63h0.7v0.7h-0.7zM180.9 164.42h0.6v0.6h-0.6zM321.23 188.4h0.6v0.6h-0.6zM385.72 177.19h0.7v0.7h-0.7zM271.33 181.74h0.7v0.7h-0.7zM275.6 142.65h0.9v0.9h-0.9zM310.38 183.79h0.6v0.6h-0.6zM332.06 176.36h0.7v0.7h-0.7zM288.09 213.6h0.6v0.6h-0.6zM133.41 147.16h0.9v0.9h-0.9zM310.03 168.88h0.7v0.7h-0.7zM287.34 200.13h0.7v0.7h-0.7zM178.38 195.22h0.6v0.6h-0.6zM335.6 211.59h0.7v0.7h-0.7zM284.01 181.45h0.6v0.6h-0.6zM295.21 170.31h0.9v0.9h-0.9zM371.73 182.34h0.6v0.6h-0.6zM110.39 164.92h0.6v0.6h-0.6zM336.77 150.1h0.7v0.7h-0.7zM224.88 143.32h0.7v0.7h-0.7zM364.59 155.78h0.9v0.9h-0.9zM363.89 177.43h0.9v0.9h-0.9zM324.4 178.75h0.7v0.7h-0.7zM112.89 195.78h0.6v0.6h-0.6zM316.55 164.92h0.6v0.6h-0.6zM186.41 153.09h0.7v0.7h-0.7zM195.79 200.26h0.9v0.9h-0.9zM199.31 183.38h0.7v0.7h-0.7zM190.07 184.09h0.7v0.7h-0.7zM295.47 170.25h0.6v0.6h-0.6zM293.51 158.24h0.7v0.7h-0.7zM187.82 171.32h0.6v0.6h-0.6zM159.2 145.74h0.7v0.7h-0.7zM195.96 193.88h0.7v0.7h-0.7zM357.76 145.81h0.6v0.6h-0.6zM378.4 208.13h0.7v0.7h-0.7zM198.75 149.67h0.6v0.6h-0.6zM310.5 148.55h0.7v0.7h-0.7zM233.49 152.09h0.9v0.9h-0.9zM188.14 152.78h0.7v0.7h-0.7zM182.38 152.18h0.7v0.7h-0.7zM326.55 148.21h0.6v0.6h-0.6zM147.44 155.71h0.9v0.9h-0.9zM305.76 166.4h0.6v0.6h-0.6zM314.09 183.98h0.7v0.7h-0.7zM291.03 167.86h0.9v0.9h-0.9zM326.91 185.89h0.9v0.9h-0.9zM380.3 149.15h0.7v0.7h-0.7zM87 180.65h0.7v0.7h-0.7zM284.47 162.14h0.9v0.9h-0.9zM120.92 176.78h0.7v0.7h-0.7zM89.65 199.57h0.9v0.9h-0.9zM127.21 169.76h0.9v0.9h-0.9zM341.49 185.97h0.9v0.9h-0.9zM324.87 153.01h0.9v0.9h-0.9zM295.13 184.49h0.9v0.9h-0.9zM160.06 145.01h0.7v0.7h-0.7zM279.61 181.04h0.7v0.7h-0.7zM218.91 168.34h0.9v0.9h-0.9zM146.73 188.24h0.7v0.7h-0.7zM253.44 166.74h0.6v0.6h-0.6zM103.78 181.58h0.9v0.9h-0.9zM367.65 189.5h0.6v0.6h-0.6zM173.01 141.2h0.9v0.9h-0.9zM373.94 155.41h0.7v0.7h-0.7zM175.14 205.36h0.6v0.6h-0.6zM370.31 190.06h0.6v0.6h-0.6zM89.85 183.13h0.9v0.9h-0.9zM377.94 212.93h0.9v0.9h-0.9zM246.21 173.23h0.9v0.9h-0.9zM137.09 179.87h0.7v0.7h-0.7zM267.62 209.29h0.9v0.9h-0.9zM111.83 151.3h0.6v0.6h-0.6zM104.8 176.94h0.9v0.9h-0.9zM367.48 207.31h0.6v0.6h-0.6zM121.94 163.16h0.7v0.7h-0.7zM147.72 161.11h0.6v0.6h-0.6zM378.49 211.11h0.6v0.6h-0.6zM342.68 210h0.6v0.6h-0.6zM266.53 199.7h0.9v0.9h-0.9zM255.08 207.3h0.7v0.7h-0.7zM365.44 147.38h0.9v0.9h-0.9zM128.72 208.38h0.6v0.6h-0.6zM114.88 205.14h0.6v0.6h-0.6zM207.13 152h0.6v0.6h-0.6zM290.78 179.36h0.9v0.9h-0.9zM314.63 190.51h0.6v0.6h-0.6zM81.01 146.01h0.6v0.6h-0.6zM378.3 202.5h0.7v0.7h-0.7zM187.73 157.19h0.7v0.7h-0.7zM85.36 197.84h0.7v0.7h-0.7zM95.38 168.28h0.9v0.9h-0.9zM183.09 190.81h0.7v0.7h-0.7zM279.53 209.71h0.7v0.7h-0.7zM134.39 152.07h0.7v0.7h-0.7zM218.46 157.31h0.7v0.7h-0.7zM137.17 191.04h0.9v0.9h-0.9zM160.17 179.58h0.7v0.7h-0.7zM255.68 142.65h0.7v0.7h-0.7zM151.63 163.25h0.7v0.7h-0.7zM306.31 156.08h0.6v0.6h-0.6zM321.85 180.86h0.6v0.6h-0.6zM289.64 178.17h0.7v0.7h-0.7zM147.24 171.58h0.6v0.6h-0.6zM193.87 167.31h0.6v0.6h-0.6zM382.89 169.57h0.6v0.6h-0.6zM208.63 190.48h0.6v0.6h-0.6zM183.94 199.33h0.7v0.7h-0.7zM357.35 182.49h0.9v0.9h-0.9zM101.59 212.91h0.6v0.6h-0.6zM96.67 143.43h0.6v0.6h-0.6zM210.38 152.7h0.6v0.6h-0.6zM143.5 205.81h0.6v0.6h-0.6zM364.9 166.23h0.6v0.6h-0.6zM124.04 193.73h0.6v0.6h-0.6zM139.56 151.01h0.9v0.9h-0.9zM153.08 203.66h0.9v0.9h-0.9zM219.19 168.48h0.6v0.6h-0.6zM362.55 151.81h0.6v0.6h-0.6zM380.76 194.54h0.9v0.9h-0.9zM95.82 163.65h0.6v0.6h-0.6zM258.45 161.21h0.9v0.9h-0.9zM245.6 182.9h0.9v0.9h-0.9zM160.66 147.8h0.9v0.9h-0.9zM148.8 146.66h0.7v0.7h-0.7zM378.34 209.94h0.9v0.9h-0.9zM234.46 152.83h0.7v0.7h-0.7zM275.45 148.74h0.7v0.7h-0.7zM322.6 212.78h0.7v0.7h-0.7zM187.64 214.61h0.7v0.7h-0.7zM222.64 155.08h0.7v0.7h-0.7zM379.06 142.8h0.9v0.9h-0.9zM202.96 144.83h0.6v0.6h-0.6zM94.68 170.61h0.6v0.6h-0.6zM373.96 142.79h0.7v0.7h-0.7zM324.54 177.84h0.9v0.9h-0.9zM100.06 142.82h0.7v0.7h-0.7zM85.43 163.46h0.6v0.6h-0.6zM183.46 203.58h0.9v0.9h-0.9zM193.46 175.9h0.9v0.9h-0.9zM307.37 153.28h0.6v0.6h-0.6zM350.39 183.88h0.7v0.7h-0.7zM211.83 184.31h0.7v0.7h-0.7zM182.19 208.43h0.6v0.6h-0.6zM287.49 186.89h0.9v0.9h-0.9zM130.4 178.55h0.7v0.7h-0.7zM314.19 209.92h0.7v0.7h-0.7zM152.51 184.07h0.6v0.6h-0.6zM294.93 166.07h0.9v0.9h-0.9zM110.37 191.72h0.7v0.7h-0.7zM227.04 149.27h0.9v0.9h-0.9zM362.18 178.95h0.7v0.7h-0.7zM289.91 189.91h0.7v0.7h-0.7zM162.87 183.38h0.9v0.9h-0.9zM254.24 145.16h0.7v0.7h-0.7zM232.54 176.56h0.9v0.9h-0.9zM124.42 143.01h0.9v0.9h-0.9zM215.83 147.25h0.6v0.6h-0.6zM152.32 202.18h0.6v0.6h-0.6zM158.47 207.63h0.9v0.9h-0.9zM112.01 167.06h0.6v0.6h-0.6zM369.29 177.15h0.7v0.7h-0.7zM127 164.32h0.9v0.9h-0.9zM234.22 166.28h0.6v0.6h-0.6zM278.02 191.89h0.7v0.7h-0.7zM325.86 213.23h0.6v0.6h-0.6zM289.76 199.85h0.9v0.9h-0.9zM164.21 162.97h0.6v0.6h-0.6zM116.68 176.11h0.9v0.9h-0.9zM155.25 208.86h0.6v0.6h-0.6zM372.43 189.55h0.7v0.7h-0.7zM322.29 186.06h0.7v0.7h-0.7zM365.21 188.55h0.6v0.6h-0.6zM378.58 152.79h0.7v0.7h-0.7zM380.37 205.31h0.7v0.7h-0.7zM158.34 186.05h0.7v0.7h-0.7zM381.23 186.97h0.6v0.6h-0.6zM309.27 190.38h0.7v0.7h-0.7zM345.46 197.73h0.6v0.6h-0.6zM254.39 210.62h0.9v0.9h-0.9zM362.74 157.6h0.9v0.9h-0.9zM188.58 142.69h0.6v0.6h-0.6zM233.27 213.27h0.6v0.6h-0.6zM280.16 198.22h0.9v0.9h-0.9zM127.56 172.83h0.7v0.7h-0.7zM164.03 154.83h0.9v0.9h-0.9zM162.2 197.95h0.6v0.6h-0.6zM181.63 209.42h0.6v0.6h-0.6zM169.41 211.26h0.9v0.9h-0.9zM173.19 175.25h0.6v0.6h-0.6zM182.45 161.61h0.9v0.9h-0.9zM383.27 145.86h0.6v0.6h-0.6zM343.87 180.52h0.7v0.7h-0.7zM311.55 179.83h0.7v0.7h-0.7zM141.57 183.86h0.6v0.6h-0.6zM213.19 170.4h0.7v0.7h-0.7zM96.71 167.22h0.9v0.9h-0.9zM343.06 204.22h0.9v0.9h-0.9zM207.19 171.02h0.6v0.6h-0.6zM321.65 208.64h0.6v0.6h-0.6zM117.99 172.95h0.9v0.9h-0.9zM207.66 187.44h0.9v0.9h-0.9zM362.83 177.9h0.7v0.7h-0.7zM259.61 171.97h0.6v0.6h-0.6zM241.75 154.98h0.6v0.6h-0.6zM268.44 154.55h0.7v0.7h-0.7zM320.89 184.15h0.7v0.7h-0.7zM162.59 199.84h0.6v0.6h-0.6zM296.12 174.7h0.7v0.7h-0.7zM378.44 211.25h0.6v0.6h-0.6zM371.98 206.57h0.6v0.6h-0.6zM248.67 141.16h0.7v0.7h-0.7zM292.62 173.3h0.6v0.6h-0.6zM384.36 177.77h0.9v0.9h-0.9zM155.46 201.14h0.6v0.6h-0.6zM288.6 186.44h0.6v0.6h-0.6zM107.31 182.62h0.6v0.6h-0.6zM97.5 175.96h0.6v0.6h-0.6zM197.66 195.83h0.9v0.9h-0.9zM223.71 148.79h0.6v0.6h-0.6zM340.69 176.91h0.9v0.9h-0.9zM347.3 209.35h0.9v0.9h-0.9zM117.37 163.45h0.6v0.6h-0.6zM335.56 194.21h0.9v0.9h-0.9zM205.98 170.43h0.6v0.6h-0.6zM159.31 199.4h0.9v0.9h-0.9zM162.48 156.28h0.9v0.9h-0.9zM214.04 174.43h0.7v0.7h-0.7zM145.22 142.72h0.7v0.7h-0.7zM270.52 147.57h0.9v0.9h-0.9zM225.23 205.91h0.7v0.7h-0.7zM281.88 191.03h0.9v0.9h-0.9zM378.6 198.98h0.7v0.7h-0.7zM351.06 146.53h0.6v0.6h-0.6zM171.16 194.43h0.9v0.9h-0.9zM280.81 190.36h0.7v0.7h-0.7zM145.67 163.02h0.9v0.9h-0.9zM315.76 180.79h0.9v0.9h-0.9zM185.02 193.52h0.6v0.6h-0.6zM336.97 166.42h0.7v0.7h-0.7zM159.94 186.28h0.6v0.6h-0.6zM344.26 163.12h0.6v0.6h-0.6zM308.76 173h0.7v0.7h-0.7zM258.61 201.61h0.9v0.9h-0.9zM200.13 184.57h0.9v0.9h-0.9zM298.05 166.07h0.7v0.7h-0.7zM257.37 159.57h0.9v0.9h-0.9zM288.54 171.08h0.6v0.6h-0.6zM381.86 151.07h0.9v0.9h-0.9zM179.85 194.62h0.6v0.6h-0.6zM164.5 182.86h0.9v0.9h-0.9zM371.53 165.14h0.9v0.9h-0.9zM322.79 177.49h0.7v0.7h-0.7zM168.99 200.48h0.7v0.7h-0.7zM286.98 148.24h0.6v0.6h-0.6zM221.21 180.1h0.7v0.7h-0.7zM254.48 211.37h0.7v0.7h-0.7zM212.74 144.82h0.6v0.6h-0.6zM172.42 192.06h0.9v0.9h-0.9zM191.65 156.94h0.9v0.9h-0.9zM164.26 167.45h0.9v0.9h-0.9zM237.46 180.82h0.7v0.7h-0.7zM281.26 151.97h0.7v0.7h-0.7zM271.85 202.58h0.9v0.9h-0.9zM156.97 154.13h0.6v0.6h-0.6zM358.51 188.01h0.6v0.6h-0.6zM306.19 160.51h0.7v0.7h-0.7zM98.35 183.98h0.9v0.9h-0.9zM330.56 204.43h0.6v0.6h-0.6zM271.33 167.74h0.7v0.7h-0.7zM183.6 205.83h0.6v0.6h-0.6zM338.76 192.75h0.6v0.6h-0.6zM215.57 200.95h0.9v0.9h-0.9zM166.63 178.29h0.7v0.7h-0.7zM148.94 157.44h0.9v0.9h-0.9zM178.25 188.78h0.7v0.7h-0.7zM321.13 206.44h0.6v0.6h-0.6zM333.24 208.55h0.9v0.9h-0.9zM313.76 175.92h0.9v0.9h-0.9zM296.25 156.95h0.7v0.7h-0.7zM346.84 157.72h0.7v0.7h-0.7zM98.83 177.38h0.9v0.9h-0.9zM95.17 192.34h0.6v0.6h-0.6zM314.63 191.21h0.9v0.9h-0.9zM88.25 164.92h0.9v0.9h-0.9zM188.49 213.67h0.9v0.9h-0.9zM243.45 169.53h0.6v0.6h-0.6zM208.17 208.08h0.9v0.9h-0.9zM134.6 161.12h0.9v0.9h-0.9zM127.37 191.08h0.6v0.6h-0.6zM223.37 162.33h0.9v0.9h-0.9zM87.06 159.42h0.6v0.6h-0.6zM156.71 162.56h0.7v0.7h-0.7zM85.37 167.88h0.7v0.7h-0.7zM261.37 160.83h0.6v0.6h-0.6zM130.36 148.1h0.9v0.9h-0.9zM236.89 164.02h0.9v0.9h-0.9zM324.68 173.79h0.9v0.9h-0.9zM233.44 171.49h0.7v0.7h-0.7zM191.29 160.6h0.7v0.7h-0.7zM242.12 180.34h0.6v0.6h-0.6zM167.73 162.86h0.7v0.7h-0.7zM90.52 199.77h0.9v0.9h-0.9zM219.95 179.51h0.7v0.7h-0.7zM345.73 202.71h0.9v0.9h-0.9zM221.96 168.4h0.7v0.7h-0.7zM108.41 177.99h0.6v0.6h-0.6zM349.33 214.16h0.6v0.6h-0.6zM103.49 159.22h0.7v0.7h-0.7zM246.57 178.99h0.7v0.7h-0.7zM92.67 162.36h0.7v0.7h-0.7zM382.86 146.58h0.6v0.6h-0.6zM84.88 151.94h0.7v0.7h-0.7zM298.84 196.41h0.7v0.7h-0.7zM252.33 210.32h0.7v0.7h-0.7zM261.22 181.34h0.6v0.6h-0.6zM258.43 153.78h0.7v0.7h-0.7zM307.9 158.88h0.7v0.7h-0.7zM146.92 173.99h0.9v0.9h-0.9zM328.59 214.04h0.9v0.9h-0.9zM268.26 141.91h0.9v0.9h-0.9zM281.09 156.82h0.6v0.6h-0.6zM154.84 163.96h0.6v0.6h-0.6zM372.93 182.24h0.6v0.6h-0.6zM378.64 154.58h0.6v0.6h-0.6zM329.2 194.44h0.6v0.6h-0.6zM98.25 143.53h0.9v0.9h-0.9zM123.65 155.89h0.6v0.6h-0.6zM306.57 206.42h0.9v0.9h-0.9zM373.01 164.71h0.7v0.7h-0.7zM355.68 195.76h0.7v0.7h-0.7zM274.51 186.4h0.9v0.9h-0.9zM94.14 182.56h0.7v0.7h-0.7zM348.88 189.45h0.7v0.7h-0.7zM298.87 154.67h0.7v0.7h-0.7zM280.55 143.6h0.9v0.9h-0.9zM165.86 208.71h0.9v0.9h-0.9zM106.1 159.58h0.9v0.9h-0.9zM153.14 162.4h0.9v0.9h-0.9zM294.46 213.31h0.9v0.9h-0.9zM279.4 192.04h0.9v0.9h-0.9zM178.38 141.52h0.7v0.7h-0.7zM230.86 169.34h0.9v0.9h-0.9zM158.09 149.63h0.7v0.7h-0.7zM380.58 168.4h0.7v0.7h-0.7zM199.54 210.59h0.9v0.9h-0.9zM359.79 154.31h0.9v0.9h-0.9zM84.27 189.57h0.9v0.9h-0.9zM253.15 158.63h0.6v0.6h-0.6zM228.57 144.16h0.9v0.9h-0.9zM344.54 143.47h0.6v0.6h-0.6zM197.78 157.63h0.7v0.7h-0.7zM269.79 196.04h0.7v0.7h-0.7zM301.13 144.81h0.6v0.6h-0.6zM125.86 152.98h0.6v0.6h-0.6zM354.15 158.82h0.9v0.9h-0.9zM197 147.38h0.6v0.6h-0.6zM123.11 166.25h0.6v0.6h-0.6zM261.54 157.97h0.6v0.6h-0.6zM139.06 149.28h0.6v0.6h-0.6zM103.27 179.55h0.6v0.6h-0.6zM132.23 180.52h0.7v0.7h-0.7zM205.78 168.91h0.9v0.9h-0.9zM235.73 169.64h0.7v0.7h-0.7zM174.56 213.89h0.6v0.6h-0.6zM139.78 165.78h0.6v0.6h-0.6zM209.76 199.21h0.7v0.7h-0.7zM169.16 162.1h0.9v0.9h-0.9zM121.08 169.3h0.9v0.9h-0.9zM349.64 209.23h0.6v0.6h-0.6zM357.81 144.02h0.7v0.7h-0.7zM171.37 159.04h0.6v0.6h-0.6zM294.14 209.25h0.6v0.6h-0.6zM272.36 204.85h0.7v0.7h-0.7zM314.29 149.32h0.6v0.6h-0.6zM306.65 204.9h0.7v0.7h-0.7zM260.94 190.94h0.9v0.9h-0.9zM354.67 183.59h0.7v0.7h-0.7zM385.49 202.94h0.9v0.9h-0.9zM163.02 183.21h0.7v0.7h-0.7zM203.93 182.63h0.6v0.6h-0.6zM317.8 189.38h0.7v0.7h-0.7zM272.57 161.64h0.7v0.7h-0.7zM372.14 169.73h0.7v0.7h-0.7zM217.29 204.26h0.6v0.6h-0.6zM160.88 167.98h0.9v0.9h-0.9zM265.51 181.02h0.7v0.7h-0.7zM141.4 182.09h0.7v0.7h-0.7zM304.52 149.5h0.9v0.9h-0.9zM81.4 165.22h0.7v0.7h-0.7zM223.88 178.42h0.6v0.6h-0.6zM100.7 193.84h0.6v0.6h-0.6zM325.2 154.13h0.7v0.7h-0.7zM342.09 210.02h0.7v0.7h-0.7zM162.59 182.47h0.6v0.6h-0.6zM176.19 195.73h0.7v0.7h-0.7zM245.02 186.66h0.9v0.9h-0.9zM375.66 155.98h0.9v0.9h-0.9zM263.49 191.58h0.7v0.7h-0.7zM207.07 154.52h0.9v0.9h-0.9zM140.21 190.69h0.7v0.7h-0.7zM376.03 145.3h0.6v0.6h-0.6zM365.47 151.26h0.9v0.9h-0.9zM332.27 191.46h0.9v0.9h-0.9zM219.76 202.73h0.6v0.6h-0.6zM98.3 188.83h0.7v0.7h-0.7zM150.76 143.2h0.6v0.6h-0.6zM340.89 152.83h0.7v0.7h-0.7zM119.87 185.53h0.7v0.7h-0.7zM360.95 168.52h0.9v0.9h-0.9zM303 206.24h0.9v0.9h-0.9zM275.53 158.77h0.6v0.6h-0.6zM287.35 212.95h0.7v0.7h-0.7zM216.23 162.11h0.7v0.7h-0.7zM223.67 141.79h0.7v0.7h-0.7zM340.7 176.58h0.9v0.9h-0.9zM128.63 160.64h0.9v0.9h-0.9zM120.92 185.79h0.9v0.9h-0.9zM110.35 211.77h0.9v0.9h-0.9zM169.27 174.63h0.9v0.9h-0.9zM208.91 161.63h0.9v0.9h-0.9zM228.41 170.37h0.7v0.7h-0.7zM341.51 146.96h0.6v0.6h-0.6zM94.94 170.49h0.6v0.6h-0.6zM374.27 211.34h0.7v0.7h-0.7zM126.29 172.24h0.9v0.9h-0.9zM151.03 151.93h0.9v0.9h-0.9zM170.8 168.15h0.6v0.6h-0.6zM303 141.24h0.6v0.6h-0.6zM228.1 150.76h0.6v0.6h-0.6zM115.38 205.73h0.9v0.9h-0.9zM100.44 190.82h0.6v0.6h-0.6zM182.33 154.52h0.6v0.6h-0.6zM166.6 144.59h0.9v0.9h-0.9zM124.69 198.58h0.6v0.6h-0.6zM249.4 213.01h0.7v0.7h-0.7zM224.17 207.46h0.6v0.6h-0.6zM333.49 208.25h0.6v0.6h-0.6zM224.27 163.22h0.7v0.7h-0.7zM144.38 188.47h0.6v0.6h-0.6zM208.66 152.61h0.7v0.7h-0.7zM269.31 164.64h0.9v0.9h-0.9zM207.91 209.67h0.6v0.6h-0.6zM329.84 158.61h0.9v0.9h-0.9zM237.86 181.34h0.7v0.7h-0.7zM156.69 181.73h0.7v0.7h-0.7zM347.58 184.91h0.7v0.7h-0.7zM312.4 165.85h0.7v0.7h-0.7zM345.75 210.15h0.6v0.6h-0.6zM222.18 149.73h0.6v0.6h-0.6zM151.28 158.97h0.7v0.7h-0.7zM232.17 188.56h0.7v0.7h-0.7zM141.33 146.69h0.6v0.6h-0.6zM378.06 185.69h0.6v0.6h-0.6zM108.21 178.31h0.9v0.9h-0.9zM267.85 197.82h0.9v0.9h-0.9zM322.74 198.73h0.7v0.7h-0.7zM204.85 188.85h0.7v0.7h-0.7zM358.7 198.7h0.6v0.6h-0.6zM278.22 167.01h0.7v0.7h-0.7zM251.89 160.8h0.9v0.9h-0.9zM287.05 203.26h0.7v0.7h-0.7zM288.67 144.3h0.7v0.7h-0.7zM176.99 148.43h0.6v0.6h-0.6zM361.79 163.34h0.7v0.7h-0.7zM274.85 192.64h0.9v0.9h-0.9zM242.74 187.47h0.9v0.9h-0.9zM158.46 197.02h0.6v0.6h-0.6zM109.6 145.97h0.9v0.9h-0.9zM225.19 155.88h0.7v0.7h-0.7zM365.25 200.49h0.7v0.7h-0.7zM303.18 143.23h0.9v0.9h-0.9zM254.55 198.48h0.7v0.7h-0.7zM139.21 149.85h0.6v0.6h-0.6zM106.04 196.25h0.9v0.9h-0.9zM85.41 174.45h0.9v0.9h-0.9zM229.59 164.51h0.9v0.9h-0.9zM209.2 167.09h0.6v0.6h-0.6zM190.52 209.08h0.9v0.9h-0.9zM255.98 150.3h0.9v0.9h-0.9zM108.3 182.12h0.6v0.6h-0.6zM234.49 154.19h0.9v0.9h-0.9zM128.47 214.21h0.9v0.9h-0.9zM171.07 162.74h0.6v0.6h-0.6zM311.97 188.66h0.7v0.7h-0.7zM121.3 164.07h0.6v0.6h-0.6zM128.99 180.12h0.7v0.7h-0.7zM326.58 195.98h0.9v0.9h-0.9zM266.25 201.62h0.7v0.7h-0.7zM108.97 151.71h0.6v0.6h-0.6zM343.58 212.02h0.7v0.7h-0.7zM115.53 151.34h0.6v0.6h-0.6zM252.94 161.63h0.9v0.9h-0.9zM181.96 203.41h0.7v0.7h-0.7zM81.15 181.42h0.6v0.6h-0.6zM356.78 156.62h0.7v0.7h-0.7zM162.3 197.73h0.9v0.9h-0.9zM312.16 154.42h0.7v0.7h-0.7zM239.57 156h0.7v0.7h-0.7zM93.5 145.39h0.7v0.7h-0.7zM113.35 151.15h0.6v0.6h-0.6zM253.74 180.8h0.7v0.7h-0.7zM81.71 213.85h0.9v0.9h-0.9zM196.65 152.72h0.9v0.9h-0.9zM378.77 154.15h0.7v0.7h-0.7zM366.65 156.4h0.6v0.6h-0.6zM192.28 172.55h0.6v0.6h-0.6zM358.33 175.96h0.6v0.6h-0.6zM357.77 147.7h0.7v0.7h-0.7zM278.55 194.14h0.7v0.7h-0.7zM214.1 174.72h0.7v0.7h-0.7zM317.82 199.58h0.9v0.9h-0.9zM289.81 193.49h0.7v0.7h-0.7zM377.16 192.49h0.6v0.6h-0.6zM94.59 169.56h0.7v0.7h-0.7zM364.02 181.59h0.7v0.7h-0.7zM284.74 157.57h0.7v0.7h-0.7zM90.01 164.37h0.7v0.7h-0.7zM115.6 198.96h0.6v0.6h-0.6zM260.86 202.92h0.7v0.7h-0.7zM183.42 154.6h0.7v0.7h-0.7zM85.42 197.48h0.6v0.6h-0.6zM137.63 201.34h0.6v0.6h-0.6zM141.76 168.93h0.7v0.7h-0.7zM315.31 195.38h0.7v0.7h-0.7zM94.23 177.09h0.6v0.6h-0.6zM224.67 199.57h0.7v0.7h-0.7zM365.65 145.73h0.7v0.7h-0.7zM264.1 211.79h0.6v0.6h-0.6zM133 214.17h0.6v0.6h-0.6zM364.41 157.5h0.7v0.7h-0.7zM173.12 173.63h0.9v0.9h-0.9zM288.42 156.04h0.7v0.7h-0.7zM344.75 178.63h0.6v0.6h-0.6zM171 208.35h0.7v0.7h-0.7zM202.37 146.69h0.7v0.7h-0.7zM102.55 159.12h0.9v0.9h-0.9zM263.16 173.3h0.7v0.7h-0.7zM100.03 144.75h0.7v0.7h-0.7zM163.28 162.55h0.9v0.9h-0.9zM245.04 168.24h0.7v0.7h-0.7zM286.49 165.78h0.7v0.7h-0.7zM323.7 147.85h0.9v0.9h-0.9zM96.59 162.89h0.7v0.7h-0.7zM128.72 158.54h0.7v0.7h-0.7zM262.29 195.16h0.6v0.6h-0.6zM190.68 173.75h0.9v0.9h-0.9zM130.37 171.93h0.7v0.7h-0.7zM320.33 182.07h0.7v0.7h-0.7zM110.41 169.5h0.7v0.7h-0.7zM234.26 199.47h0.9v0.9h-0.9zM353.43 194.57h0.9v0.9h-0.9zM172.53 211.72h0.9v0.9h-0.9zM335.88 179.07h0.6v0.6h-0.6zM334.88 201.99h0.9v0.9h-0.9zM263.3 208.03h0.6v0.6h-0.6zM263.58 150.79h0.6v0.6h-0.6zM370.06 153.15h0.9v0.9h-0.9zM163.13 207.18h0.7v0.7h-0.7zM115.11 187.78h0.7v0.7h-0.7zM82.95 157.58h0.9v0.9h-0.9zM196.29 192.13h0.7v0.7h-0.7zM373.78 171.21h0.7v0.7h-0.7zM303.89 145.47h0.9v0.9h-0.9zM241.79 143.47h0.7v0.7h-0.7zM156.65 153.6h0.9v0.9h-0.9zM350.83 209.98h0.6v0.6h-0.6zM326.83 150.27h0.9v0.9h-0.9zM285.85 149.1h0.7v0.7h-0.7zM198.05 179.01h0.9v0.9h-0.9zM213.53 184.99h0.6v0.6h-0.6zM364.9 207.96h0.9v0.9h-0.9zM150.45 159.04h0.7v0.7h-0.7zM359.31 176.59h0.9v0.9h-0.9zM187.42 214.19h0.7v0.7h-0.7zM279.97 150.56h0.6v0.6h-0.6zM382.85 211.22h0.6v0.6h-0.6zM281.6 148.36h0.6v0.6h-0.6zM320.69 207.25h0.7v0.7h-0.7zM247.97 173.8h0.7v0.7h-0.7zM377.09 193.89h0.7v0.7h-0.7zM119.84 166.92h0.9v0.9h-0.9zM313.56 211.53h0.9v0.9h-0.9zM282.79 164.93h0.9v0.9h-0.9zM122.37 159.99h0.6v0.6h-0.6zM133.83 195.92h0.6v0.6h-0.6zM370.56 209.28h0.7v0.7h-0.7zM339.62 201.6h0.9v0.9h-0.9zM288.37 206.12h0.9v0.9h-0.9zM336.33 144.21h0.6v0.6h-0.6zM236.93 196.46h0.6v0.6h-0.6zM353.36 214.11h0.7v0.7h-0.7zM341.45 155.71h0.7v0.7h-0.7zM292.37 168.13h0.9v0.9h-0.9zM381.26 197.18h0.7v0.7h-0.7zM301.48 200.23h0.7v0.7h-0.7zM368.48 152.07h0.7v0.7h-0.7zM288.38 181.46h0.6v0.6h-0.6zM128.47 213.84h0.6v0.6h-0.6zM335.59 151.12h0.7v0.7h-0.7zM330.96 184.61h0.6v0.6h-0.6zM287.19 142.53h0.9v0.9h-0.9zM266.52 195h0.9v0.9h-0.9zM134.21 147.14h0.9v0.9h-0.9zM102.57 190.01h0.6v0.6h-0.6zM339.89 181.56h0.6v0.6h-0.6zM284.51 185.74h0.6v0.6h-0.6zM373.5 200.97h0.7v0.7h-0.7zM220.98 142.08h0.9v0.9h-0.9zM264.38 153.54h0.9v0.9h-0.9zM192.4 145.6h0.9v0.9h-0.9zM334.15 187.1h0.7v0.7h-0.7zM261.79 203.93h0.9v0.9h-0.9zM383.01 175.12h0.9v0.9h-0.9zM201.82 141.83h0.7v0.7h-0.7zM360.63 145.47h0.9v0.9h-0.9zM201.24 161.27h0.9v0.9h-0.9zM347.84 183.49h0.9v0.9h-0.9zM201.28 150.18h0.9v0.9h-0.9zM236.29 167.34h0.6v0.6h-0.6zM184.34 213.13h0.6v0.6h-0.6zM256.63 163.21h0.7v0.7h-0.7zM85.15 163.26h0.9v0.9h-0.9zM169.72 177.05h0.9v0.9h-0.9zM267.29 192.49h0.7v0.7h-0.7zM100.75 166.78h0.7v0.7h-0.7zM371.17 198.27h0.9v0.9h-0.9zM384.45 150.84h0.7v0.7h-0.7zM306.82 145.08h0.6v0.6h-0.6zM156.37 148.13h0.9v0.9h-0.9zM317.25 152.65h0.9v0.9h-0.9zM113.9 173.35h0.7v0.7h-0.7zM121.81 212.47h0.9v0.9h-0.9zM374.97 145.38h0.7v0.7h-0.7zM198.16 146.16h0.9v0.9h-0.9zM87.75 148.02h0.6v0.6h-0.6zM173.07 185.81h0.7v0.7h-0.7zM339.2 213.04h0.9v0.9h-0.9zM383.01 206.61h0.9v0.9h-0.9zM158.01 201.81h0.6v0.6h-0.6zM263.9 200.8h0.7v0.7h-0.7zM111.04 211.02h0.6v0.6h-0.6zM149.04 194.27h0.9v0.9h-0.9zM81.17 199.54h0.6v0.6h-0.6zM338.56 197.79h0.9v0.9h-0.9zM232.16 173.94h0.6v0.6h-0.6zM217.66 160.84h0.9v0.9h-0.9zM241.25 209.29h0.9v0.9h-0.9zM385.61 165.22h0.6v0.6h-0.6zM294.79 165.3h0.9v0.9h-0.9zM119.22 179.04h0.7v0.7h-0.7zM344.19 191.79h0.7v0.7h-0.7zM187.4 197.92h0.7v0.7h-0.7zM143.28 208.82h0.6v0.6h-0.6zM374.65 196.47h0.9v0.9h-0.9zM229.53 175.87h0.6v0.6h-0.6zM296.09 165.66h0.7v0.7h-0.7zM372.24 162.85h0.6v0.6h-0.6zM106.58 142.33h0.6v0.6h-0.6zM129.55 183.87h0.7v0.7h-0.7zM193.05 211.2h0.7v0.7h-0.7zM174.27 154.91h0.7v0.7h-0.7zM112.16 143.18h0.9v0.9h-0.9zM269.75 178.98h0.6v0.6h-0.6zM294.93 158.16h0.9v0.9h-0.9zM340.26 200.59h0.6v0.6h-0.6zM155.4 152.52h0.7v0.7h-0.7zM360.09 209.15h0.9v0.9h-0.9zM231.07 201.52h0.6v0.6h-0.6zM101.23 162.79h0.6v0.6h-0.6zM81.56 208.69h0.6v0.6h-0.6zM345.19 144.42h0.7v0.7h-0.7zM153.65 203.96h0.6v0.6h-0.6zM110.22 180.44h0.6v0.6h-0.6zM118.98 148.33h0.9v0.9h-0.9zM160.85 201.7h0.6v0.6h-0.6zM256.56 201.8h0.7v0.7h-0.7zM81.9 181.89h0.9v0.9h-0.9zM154.33 174.13h0.6v0.6h-0.6zM292.62 157.5h0.6v0.6h-0.6zM118.89 203.74h0.6v0.6h-0.6zM249.54 147.61h0.9v0.9h-0.9zM185.69 204.51h0.9v0.9h-0.9zM117.59 210.02h0.7v0.7h-0.7zM349.55 169.76h0.6v0.6h-0.6zM132.67 194.58h0.9v0.9h-0.9zM144.43 141.31h0.6v0.6h-0.6zM224.4 166.56h0.9v0.9h-0.9zM334.53 171.72h0.9v0.9h-0.9zM85.19 161.92h0.6v0.6h-0.6zM261.92 188.49h0.9v0.9h-0.9zM122.64 163.44h0.6v0.6h-0.6zM202.74 179.49h0.9v0.9h-0.9zM345.43 191.31h0.9v0.9h-0.9zM229.75 208.31h0.7v0.7h-0.7zM333.67 200.48h0.6v0.6h-0.6zM177.51 155.87h0.7v0.7h-0.7zM313.93 175.94h0.6v0.6h-0.6zM169.11 172.82h0.7v0.7h-0.7zM311.66 206.13h0.7v0.7h-0.7zM173.09 181.71h0.9v0.9h-0.9zM351.72 183.07h0.9v0.9h-0.9zM125.27 183.01h0.6v0.6h-0.6zM192.55 214.25h0.7v0.7h-0.7zM227.18 156.38h0.6v0.6h-0.6zM341.12 174.76h0.7v0.7h-0.7zM323.48 210.89h0.6v0.6h-0.6zM254.59 171.11h0.6v0.6h-0.6zM288.12 194.19h0.6v0.6h-0.6zM117.38 146.85h0.7v0.7h-0.7zM113.89 148.79h0.6v0.6h-0.6zM266.84 204.98h0.9v0.9h-0.9zM288.34 201.64h0.9v0.9h-0.9zM259.2 188.69h0.9v0.9h-0.9zM247.01 142.66h0.7v0.7h-0.7zM212.41 203.3h0.6v0.6h-0.6zM261.1 160.15h0.6v0.6h-0.6zM147.13 166.44h0.9v0.9h-0.9zM143.8 156.11h0.6v0.6h-0.6zM206.48 147.85h0.7v0.7h-0.7zM127.7 142.13h0.9v0.9h-0.9zM185.63 154.72h0.6v0.6h-0.6zM358.9 196.14h0.7v0.7h-0.7zM302.84 182.45h0.7v0.7h-0.7zM312.47 160.05h0.9v0.9h-0.9zM145.31 181.6h0.6v0.6h-0.6zM371.82 183.97h0.7v0.7h-0.7zM323.83 143.75h0.9v0.9h-0.9zM115.37 143.93h0.9v0.9h-0.9zM156.36 145.93h0.6v0.6h-0.6zM317.68 151.48h0.7v0.7h-0.7zM164.06 167.82h0.6v0.6h-0.6zM333.53 202.59h0.6v0.6h-0.6zM264.91 210.02h0.9v0.9h-0.9zM151.55 186.53h0.6v0.6h-0.6zM196.47 183.05h0.6v0.6h-0.6zM382.68 169.97h0.6v0.6h-0.6zM300.51 157.61h0.6v0.6h-0.6zM154.86 149.66h0.6v0.6h-0.6zM338.99 181.37h0.9v0.9h-0.9zM352.44 201.55h0.6v0.6h-0.6zM287.64 182.16h0.9v0.9h-0.9zM262.64 162.62h0.9v0.9h-0.9zM214.89 206.43h0.7v0.7h-0.7zM87.24 170.26h0.7v0.7h-0.7zM224.52 211.6h0.9v0.9h-0.9zM106.82 157.82h0.7v0.7h-0.7zM332.76 141.55h0.9v0.9h-0.9zM105.13 179.64h0.6v0.6h-0.6zM259.27 191.51h0.9v0.9h-0.9zM319.97 175.77h0.6v0.6h-0.6zM170.96 175.24h0.9v0.9h-0.9zM241.27 161.38h0.6v0.6h-0.6zM259.36 212.93h0.9v0.9h-0.9zM162.92 196.66h0.6v0.6h-0.6zM168.77 168.49h0.7v0.7h-0.7zM231.12 206.79h0.9v0.9h-0.9zM137.29 211.41h0.9v0.9h-0.9zM231.92 214.47h0.9v0.9h-0.9zM128.61 173.38h0.6v0.6h-0.6zM86.1 184.63h0.9v0.9h-0.9zM340.68 157.96h0.7v0.7h-0.7zM383.59 176.89h0.9v0.9h-0.9zM285.73 167.68h0.9v0.9h-0.9zM162.76 204.48h0.9v0.9h-0.9zM295.42 172.58h0.9v0.9h-0.9zM227.51 153.28h0.9v0.9h-0.9zM269.94 163h0.6v0.6h-0.6zM351.8 154.08h0.9v0.9h-0.9zM136.3 182.8h0.6v0.6h-0.6z" fill="#8c8c8c" opacity="0.7"/>
<path d="M109.2 142.8L112.2 148.2L106.2 148.2ZM132 148.7L136.4 146.72L135.52 150.68ZM178.4 153.5L181.4 158.9L175.4 158.9ZM225.4 154L229.8 152.02L228.92 155.98ZM170.5 175.1L174.9 173.12L174.02 177.08ZM108.5 178.6L110.7 182.56L106.3 182.56ZM154.9 182.8L157.2 186.94L152.6 186.94ZM201.2 187L203.5 191.14L198.9 191.14ZM116.2 195.8L120.8 193.73L119.88 197.87ZM209.6 200.7L214.2 198.63L213.28 202.77ZM78.9 169.4L82.9 167.6L82.1 171.2ZM331.3 150.4L333.7 154.72L328.9 154.72ZM317.5 159L321.9 157.02L321.02 160.98ZM377.6 153.8L379.8 157.76L375.4 157.76ZM316.2 175.7L319.2 181.1L313.2 181.1ZM355.7 185.2L360.1 183.22L359.22 187.18ZM385 187L387.2 190.96L382.8 190.96ZM339.4 199L341.6 202.96L337.2 202.96ZM302 205.8L306.4 203.82L305.52 207.78ZM247.5 164.3L250.5 169.7L244.5 169.7ZM263.9 180.4L268.3 178.42L267.42 182.38ZM247.5 190.9L249.7 194.86L245.3 194.86ZM293.5 195.1L295.7 199.06L291.3 199.06Z" fill="none" stroke="#555" stroke-width="0.65"/>
<rect x="79.8" y="215.8" width="307" height="77.5" fill="url(#stone)"/>
<path d="M79.8 112.7V293.3M386.8 112.7V293.3M386.8 112.7H415.8M79.8 139.5H415.8M79.8 215.8H386.8M79.8 293.3H417" fill="none" stroke="#6b6b6b" stroke-width="1.1"/>
<path d="M79.8 215.8H386.8" stroke="#444" stroke-width="1"/>
<rect x="342.8" y="210.7" width="49.8" height="8.6" fill="#b4b4b4"/>
<path d="M395.6 112.7V293.3" stroke="#555" stroke-width="0.9"/>
<path d="M395.6 113.2L393.7 118.4L397.5 118.4Z" fill="#111"/>
<path d="M395.6 139L393.7 133.8L397.5 133.8Z" fill="#111"/>
<path d="M395.6 140L393.7 145.2L397.5 145.2Z" fill="#111"/>
<path d="M395.6 215.3L393.7 210.1L397.5 210.1Z" fill="#111"/>
<path d="M395.6 216.3L393.7 221.5L397.5 221.5Z" fill="#111"/>
<path d="M395.6 292.8L393.7 287.6L397.5 287.6Z" fill="#111"/>
<ellipse cx="82.6" cy="129.3" rx="3" ry="2.3" fill="#3b5f27"/><path d="M103.3 132.3C102.3 129.5 104.3 127 107.4 126.8C108.4 124.8 113.1 124.3 114.8 125.8C118.4 125.5 121.1 128.5 120.1 132.2C119.4 134.6 116.1 134.8 113.9 134L112.7 134.8V139.5H110.5V134.8L109.1 134C106.8 134.8 103.8 134.6 103.3 132.3Z" fill="#3b5f27"/><path d="M108.4 139.5Q111.6 137.6 114.8 139.5Z" fill="#3b5f27"/><path d="M134.7 132.3C133.7 129.5 135.7 127 138.8 126.8C139.8 124.8 144.5 124.3 146.2 125.8C149.8 125.5 152.5 128.5 151.5 132.2C150.8 134.6 147.5 134.8 145.3 134L144.1 134.8V139.5H141.9V134.8L140.5 134C138.2 134.8 135.2 134.6 134.7 132.3Z" fill="#3b5f27"/><path d="M139.8 139.5Q143 137.6 146.2 139.5Z" fill="#3b5f27"/><path d="M169 132.3C168 129.5 170 127 173.1 126.8C174.1 124.8 178.8 124.3 180.5 125.8C184.1 125.5 186.8 128.5 185.8 132.2C185.1 134.6 181.8 134.8 179.6 134L178.4 134.8V139.5H176.2V134.8L174.8 134C172.5 134.8 169.5 134.6 169 132.3Z" fill="#3b5f27"/><path d="M174.1 139.5Q177.3 137.6 180.5 139.5Z" fill="#3b5f27"/><path d="M202.6 132.3C201.6 129.5 203.6 127 206.7 126.8C207.7 124.8 212.4 124.3 214.1 125.8C217.7 125.5 220.4 128.5 219.4 132.2C218.7 134.6 215.4 134.8 213.2 134L212 134.8V139.5H209.8V134.8L208.4 134C206.1 134.8 203.1 134.6 202.6 132.3Z" fill="#3b5f27"/><path d="M207.7 139.5Q210.9 137.6 214.1 139.5Z" fill="#3b5f27"/><path d="M235 132.3C234 129.5 236 127 239.1 126.8C240.1 124.8 244.8 124.3 246.5 125.8C250.1 125.5 252.8 128.5 251.8 132.2C251.1 134.6 247.8 134.8 245.6 134L244.4 134.8V139.5H242.2V134.8L240.8 134C238.5 134.8 235.5 134.6 235 132.3Z" fill="#3b5f27"/><path d="M240.1 139.5Q243.3 137.6 246.5 139.5Z" fill="#3b5f27"/><path d="M267.9 132.3C266.9 129.5 268.9 127 272 126.8C273 124.8 277.7 124.3 279.4 125.8C283 125.5 285.7 128.5 284.7 132.2C284 134.6 280.7 134.8 278.5 134L277.3 134.8V139.5H275.1V134.8L273.7 134C271.4 134.8 268.4 134.6 267.9 132.3Z" fill="#3b5f27"/><path d="M273 139.5Q276.2 137.6 279.4 139.5Z" fill="#3b5f27"/><path d="M305.6 132.3C304.6 129.5 306.6 127 309.7 126.8C310.7 124.8 315.4 124.3 317.1 125.8C320.7 125.5 323.4 128.5 322.4 132.2C321.7 134.6 318.4 134.8 316.2 134L315 134.8V139.5H312.8V134.8L311.4 134C309.1 134.8 306.1 134.6 305.6 132.3Z" fill="#3b5f27"/><path d="M310.7 139.5Q313.9 137.6 317.1 139.5Z" fill="#3b5f27"/><path d="M337.1 132.3C336.1 129.5 338.1 127 341.2 126.8C342.2 124.8 346.9 124.3 348.6 125.8C352.2 125.5 354.9 128.5 353.9 132.2C353.2 134.6 349.9 134.8 347.7 134L346.5 134.8V139.5H344.3V134.8L342.9 134C340.6 134.8 337.6 134.6 337.1 132.3Z" fill="#3b5f27"/><path d="M342.2 139.5Q345.4 137.6 348.6 139.5Z" fill="#3b5f27"/><path d="M370 132.3C369 129.5 371 127 374.1 126.8C375.1 124.8 379.8 124.3 381.5 125.8C385.1 125.5 387.8 128.5 386.8 132.2C386.1 134.6 382.8 134.8 380.6 134L379.4 134.8V139.5H377.2V134.8L375.8 134C373.5 134.8 370.5 134.6 370 132.3Z" fill="#3b5f27"/><path d="M375.1 139.5Q378.3 137.6 381.5 139.5Z" fill="#3b5f27"/><path d="M97.8 139.5V128h1V139.5Z" fill="#3b5f27"/><ellipse cx="96.7" cy="129.2" rx="1.6" ry="0.8" transform="rotate(35 96.7 129.2)" fill="#3b5f27"/><ellipse cx="99.9" cy="128.3" rx="1.6" ry="0.8" transform="rotate(-35 99.9 128.3)" fill="#3b5f27"/><ellipse cx="100.2" cy="132.3" rx="1.8" ry="1.0" transform="rotate(20 100.2 132.3)" fill="#3b5f27"/><ellipse cx="96.4" cy="133.4" rx="1.6" ry="0.9" transform="rotate(-20 96.4 133.4)" fill="#3b5f27"/><path d="M94.8 139.5Q98.3 137.8 101.8 139.5Z" fill="#3b5f27"/><path d="M133.5 139.5V128h1V139.5Z" fill="#3b5f27"/><ellipse cx="132.4" cy="129.2" rx="1.6" ry="0.8" transform="rotate(35 132.4 129.2)" fill="#3b5f27"/><ellipse cx="135.6" cy="128.3" rx="1.6" ry="0.8" transform="rotate(-35 135.6 128.3)" fill="#3b5f27"/><ellipse cx="135.9" cy="132.3" rx="1.8" ry="1.0" transform="rotate(20 135.9 132.3)" fill="#3b5f27"/><ellipse cx="132.1" cy="133.4" rx="1.6" ry="0.9" transform="rotate(-20 132.1 133.4)" fill="#3b5f27"/><path d="M130.5 139.5Q134 137.8 137.5 139.5Z" fill="#3b5f27"/><path d="M164.2 139.5V128h1V139.5Z" fill="#3b5f27"/><ellipse cx="163.1" cy="129.2" rx="1.6" ry="0.8" transform="rotate(35 163.1 129.2)" fill="#3b5f27"/><ellipse cx="166.3" cy="128.3" rx="1.6" ry="0.8" transform="rotate(-35 166.3 128.3)" fill="#3b5f27"/><ellipse cx="166.6" cy="132.3" rx="1.8" ry="1.0" transform="rotate(20 166.6 132.3)" fill="#3b5f27"/><ellipse cx="162.8" cy="133.4" rx="1.6" ry="0.9" transform="rotate(-20 162.8 133.4)" fill="#3b5f27"/><path d="M161.2 139.5Q164.7 137.8 168.2 139.5Z" fill="#3b5f27"/><path d="M197.8 139.5V128h1V139.5Z" fill="#3b5f27"/><ellipse cx="196.7" cy="129.2" rx="1.6" ry="0.8" transform="rotate(35 196.7 129.2)" fill="#3b5f27"/><ellipse cx="199.9" cy="128.3" rx="1.6" ry="0.8" transform="rotate(-35 199.9 128.3)" fill="#3b5f27"/><ellipse cx="200.2" cy="132.3" rx="1.8" ry="1.0" transform="rotate(20 200.2 132.3)" fill="#3b5f27"/><ellipse cx="196.4" cy="133.4" rx="1.6" ry="0.9" transform="rotate(-20 196.4 133.4)" fill="#3b5f27"/><path d="M194.8 139.5Q198.3 137.8 201.8 139.5Z" fill="#3b5f27"/><path d="M232.3 139.5V128h1V139.5Z" fill="#3b5f27"/><ellipse cx="231.2" cy="129.2" rx="1.6" ry="0.8" transform="rotate(35 231.2 129.2)" fill="#3b5f27"/><ellipse cx="234.4" cy="128.3" rx="1.6" ry="0.8" transform="rotate(-35 234.4 128.3)" fill="#3b5f27"/><ellipse cx="234.7" cy="132.3" rx="1.8" ry="1.0" transform="rotate(20 234.7 132.3)" fill="#3b5f27"/><ellipse cx="230.9" cy="133.4" rx="1.6" ry="0.9" transform="rotate(-20 230.9 133.4)" fill="#3b5f27"/><path d="M229.3 139.5Q232.8 137.8 236.3 139.5Z" fill="#3b5f27"/><path d="M263.8 139.5V128h1V139.5Z" fill="#3b5f27"/><ellipse cx="262.7" cy="129.2" rx="1.6" ry="0.8" transform="rotate(35 262.7 129.2)" fill="#3b5f27"/><ellipse cx="265.9" cy="128.3" rx="1.6" ry="0.8" transform="rotate(-35 265.9 128.3)" fill="#3b5f27"/><ellipse cx="266.2" cy="132.3" rx="1.8" ry="1.0" transform="rotate(20 266.2 132.3)" fill="#3b5f27"/><ellipse cx="262.4" cy="133.4" rx="1.6" ry="0.9" transform="rotate(-20 262.4 133.4)" fill="#3b5f27"/><path d="M260.8 139.5Q264.3 137.8 267.8 139.5Z" fill="#3b5f27"/><path d="M300.1 139.5V128h1V139.5Z" fill="#3b5f27"/><ellipse cx="299" cy="129.2" rx="1.6" ry="0.8" transform="rotate(35 299 129.2)" fill="#3b5f27"/><ellipse cx="302.2" cy="128.3" rx="1.6" ry="0.8" transform="rotate(-35 302.2 128.3)" fill="#3b5f27"/><ellipse cx="302.5" cy="132.3" rx="1.8" ry="1.0" transform="rotate(20 302.5 132.3)" fill="#3b5f27"/><ellipse cx="298.7" cy="133.4" rx="1.6" ry="0.9" transform="rotate(-20 298.7 133.4)" fill="#3b5f27"/><path d="M297.1 139.5Q300.6 137.8 304.1 139.5Z" fill="#3b5f27"/><path d="M335.8 139.5V128h1V139.5Z" fill="#3b5f27"/><ellipse cx="334.7" cy="129.2" rx="1.6" ry="0.8" transform="rotate(35 334.7 129.2)" fill="#3b5f27"/><ellipse cx="337.9" cy="128.3" rx="1.6" ry="0.8" transform="rotate(-35 337.9 128.3)" fill="#3b5f27"/><ellipse cx="338.2" cy="132.3" rx="1.8" ry="1.0" transform="rotate(20 338.2 132.3)" fill="#3b5f27"/><ellipse cx="334.4" cy="133.4" rx="1.6" ry="0.9" transform="rotate(-20 334.4 133.4)" fill="#3b5f27"/><path d="M332.8 139.5Q336.3 137.8 339.8 139.5Z" fill="#3b5f27"/><path d="M365.9 139.5V128h1V139.5Z" fill="#3b5f27"/><ellipse cx="364.8" cy="129.2" rx="1.6" ry="0.8" transform="rotate(35 364.8 129.2)" fill="#3b5f27"/><ellipse cx="368" cy="128.3" rx="1.6" ry="0.8" transform="rotate(-35 368 128.3)" fill="#3b5f27"/><ellipse cx="368.3" cy="132.3" rx="1.8" ry="1.0" transform="rotate(20 368.3 132.3)" fill="#3b5f27"/><ellipse cx="364.5" cy="133.4" rx="1.6" ry="0.9" transform="rotate(-20 364.5 133.4)" fill="#3b5f27"/><path d="M362.9 139.5Q366.4 137.8 369.9 139.5Z" fill="#3b5f27"/><path d="M87.05 139.5V121h1.5V139.5Z" fill="#3b5f27"/><ellipse cx="85.4" cy="122.2" rx="2.3" ry="1.3" transform="rotate(40 85.4 122.2)" fill="#3b5f27"/><ellipse cx="90" cy="120.6" rx="2.3" ry="1.3" transform="rotate(-45 90 120.6)" fill="#3b5f27"/><ellipse cx="90.4" cy="125.8" rx="2.2" ry="1.2" transform="rotate(20 90.4 125.8)" fill="#3b5f27"/><ellipse cx="85.5" cy="127.4" rx="1.9" ry="1.1" transform="rotate(-25 85.5 127.4)" fill="#3b5f27"/><path d="M81 139.5Q87.8 137.2 94.6 139.5Z" fill="#3b5f27"/><ellipse cx="92.4" cy="131.3" rx="3.5" ry="2.8" fill="#3b5f27"/><ellipse cx="95" cy="132.6" rx="2.3" ry="2.1" fill="#3b5f27"/><path d="M122.05 139.5V121h1.5V139.5Z" fill="#3b5f27"/><ellipse cx="120.4" cy="122.2" rx="2.3" ry="1.3" transform="rotate(40 120.4 122.2)" fill="#3b5f27"/><ellipse cx="125" cy="120.6" rx="2.3" ry="1.3" transform="rotate(-45 125 120.6)" fill="#3b5f27"/><ellipse cx="125.4" cy="125.8" rx="2.2" ry="1.2" transform="rotate(20 125.4 125.8)" fill="#3b5f27"/><ellipse cx="120.5" cy="127.4" rx="1.9" ry="1.1" transform="rotate(-25 120.5 127.4)" fill="#3b5f27"/><path d="M116 139.5Q122.8 137.2 129.6 139.5Z" fill="#3b5f27"/><ellipse cx="127.4" cy="131.3" rx="3.5" ry="2.8" fill="#3b5f27"/><ellipse cx="130" cy="132.6" rx="2.3" ry="2.1" fill="#3b5f27"/><path d="M152.75 139.5V121h1.5V139.5Z" fill="#3b5f27"/><ellipse cx="151.1" cy="122.2" rx="2.3" ry="1.3" transform="rotate(40 151.1 122.2)" fill="#3b5f27"/><ellipse cx="155.7" cy="120.6" rx="2.3" ry="1.3" transform="rotate(-45 155.7 120.6)" fill="#3b5f27"/><ellipse cx="156.1" cy="125.8" rx="2.2" ry="1.2" transform="rotate(20 156.1 125.8)" fill="#3b5f27"/><ellipse cx="151.2" cy="127.4" rx="1.9" ry="1.1" transform="rotate(-25 151.2 127.4)" fill="#3b5f27"/><path d="M146.7 139.5Q153.5 137.2 160.3 139.5Z" fill="#3b5f27"/><ellipse cx="158.1" cy="131.3" rx="3.5" ry="2.8" fill="#3b5f27"/><ellipse cx="160.7" cy="132.6" rx="2.3" ry="2.1" fill="#3b5f27"/><path d="M186.35 139.5V121h1.5V139.5Z" fill="#3b5f27"/><ellipse cx="184.7" cy="122.2" rx="2.3" ry="1.3" transform="rotate(40 184.7 122.2)" fill="#3b5f27"/><ellipse cx="189.3" cy="120.6" rx="2.3" ry="1.3" transform="rotate(-45 189.3 120.6)" fill="#3b5f27"/><ellipse cx="189.7" cy="125.8" rx="2.2" ry="1.2" transform="rotate(20 189.7 125.8)" fill="#3b5f27"/><ellipse cx="184.8" cy="127.4" rx="1.9" ry="1.1" transform="rotate(-25 184.8 127.4)" fill="#3b5f27"/><path d="M180.3 139.5Q187.1 137.2 193.9 139.5Z" fill="#3b5f27"/><ellipse cx="191.7" cy="131.3" rx="3.5" ry="2.8" fill="#3b5f27"/><ellipse cx="194.3" cy="132.6" rx="2.3" ry="2.1" fill="#3b5f27"/><path d="M222.05 139.5V121h1.5V139.5Z" fill="#3b5f27"/><ellipse cx="220.4" cy="122.2" rx="2.3" ry="1.3" transform="rotate(40 220.4 122.2)" fill="#3b5f27"/><ellipse cx="225" cy="120.6" rx="2.3" ry="1.3" transform="rotate(-45 225 120.6)" fill="#3b5f27"/><ellipse cx="225.4" cy="125.8" rx="2.2" ry="1.2" transform="rotate(20 225.4 125.8)" fill="#3b5f27"/><ellipse cx="220.5" cy="127.4" rx="1.9" ry="1.1" transform="rotate(-25 220.5 127.4)" fill="#3b5f27"/><path d="M216 139.5Q222.8 137.2 229.6 139.5Z" fill="#3b5f27"/><ellipse cx="227.4" cy="131.3" rx="3.5" ry="2.8" fill="#3b5f27"/><ellipse cx="230" cy="132.6" rx="2.3" ry="2.1" fill="#3b5f27"/><path d="M252.35 139.5V121h1.5V139.5Z" fill="#3b5f27"/><ellipse cx="250.7" cy="122.2" rx="2.3" ry="1.3" transform="rotate(40 250.7 122.2)" fill="#3b5f27"/><ellipse cx="255.3" cy="120.6" rx="2.3" ry="1.3" transform="rotate(-45 255.3 120.6)" fill="#3b5f27"/><ellipse cx="255.7" cy="125.8" rx="2.2" ry="1.2" transform="rotate(20 255.7 125.8)" fill="#3b5f27"/><ellipse cx="250.8" cy="127.4" rx="1.9" ry="1.1" transform="rotate(-25 250.8 127.4)" fill="#3b5f27"/><path d="M246.3 139.5Q253.1 137.2 259.9 139.5Z" fill="#3b5f27"/><ellipse cx="257.7" cy="131.3" rx="3.5" ry="2.8" fill="#3b5f27"/><ellipse cx="260.3" cy="132.6" rx="2.3" ry="2.1" fill="#3b5f27"/><path d="M289.35 139.5V121h1.5V139.5Z" fill="#3b5f27"/><ellipse cx="287.7" cy="122.2" rx="2.3" ry="1.3" transform="rotate(40 287.7 122.2)" fill="#3b5f27"/><ellipse cx="292.3" cy="120.6" rx="2.3" ry="1.3" transform="rotate(-45 292.3 120.6)" fill="#3b5f27"/><ellipse cx="292.7" cy="125.8" rx="2.2" ry="1.2" transform="rotate(20 292.7 125.8)" fill="#3b5f27"/><ellipse cx="287.8" cy="127.4" rx="1.9" ry="1.1" transform="rotate(-25 287.8 127.4)" fill="#3b5f27"/><path d="M283.3 139.5Q290.1 137.2 296.9 139.5Z" fill="#3b5f27"/><ellipse cx="294.7" cy="131.3" rx="3.5" ry="2.8" fill="#3b5f27"/><ellipse cx="297.3" cy="132.6" rx="2.3" ry="2.1" fill="#3b5f27"/><path d="M324.35 139.5V121h1.5V139.5Z" fill="#3b5f27"/><ellipse cx="322.7" cy="122.2" rx="2.3" ry="1.3" transform="rotate(40 322.7 122.2)" fill="#3b5f27"/><ellipse cx="327.3" cy="120.6" rx="2.3" ry="1.3" transform="rotate(-45 327.3 120.6)" fill="#3b5f27"/><ellipse cx="327.7" cy="125.8" rx="2.2" ry="1.2" transform="rotate(20 327.7 125.8)" fill="#3b5f27"/><ellipse cx="322.8" cy="127.4" rx="1.9" ry="1.1" transform="rotate(-25 322.8 127.4)" fill="#3b5f27"/><path d="M318.3 139.5Q325.1 137.2 331.9 139.5Z" fill="#3b5f27"/><ellipse cx="329.7" cy="131.3" rx="3.5" ry="2.8" fill="#3b5f27"/><ellipse cx="332.3" cy="132.6" rx="2.3" ry="2.1" fill="#3b5f27"/><path d="M355.15 139.5V121h1.5V139.5Z" fill="#3b5f27"/><ellipse cx="353.5" cy="122.2" rx="2.3" ry="1.3" transform="rotate(40 353.5 122.2)" fill="#3b5f27"/><ellipse cx="358.1" cy="120.6" rx="2.3" ry="1.3" transform="rotate(-45 358.1 120.6)" fill="#3b5f27"/><ellipse cx="358.5" cy="125.8" rx="2.2" ry="1.2" transform="rotate(20 358.5 125.8)" fill="#3b5f27"/><ellipse cx="353.6" cy="127.4" rx="1.9" ry="1.1" transform="rotate(-25 353.6 127.4)" fill="#3b5f27"/><path d="M349.1 139.5Q355.9 137.2 362.7 139.5Z" fill="#3b5f27"/><ellipse cx="360.5" cy="131.3" rx="3.5" ry="2.8" fill="#3b5f27"/><ellipse cx="363.1" cy="132.6" rx="2.3" ry="2.1" fill="#3b5f27"/>
<path d="M43.2 91H69.1V86.1L79 96L69.1 105.9V100.9H43.2Z" fill="#8eaadc"/>
<path d="M115.9 109.9H121.8V95.6H124.3L118.7 89.7L113.1 95.6H115.9Z" fill="#8eaadc"/>
<path d="M237.6 51.8H243.9V80.7H247.4L240.6 87.5L233.8 80.7H237.6Z" fill="#8eaadc"/>
<rect x="247.5" y="140.8" width="64.3" height="15.1" fill="#f0f0f0"/>
<rect x="246.5" y="218.2" width="64.7" height="15.8" fill="#f0f0f0"/>
<rect x="249.6" y="295" width="62.1" height="16.2" fill="#f0f0f0"/>
<path d="M238 134.9H243.9V153.5H247.1L240.9 160.4L234.7 153.5H238Z" fill="#8eaadc"/>
<path d="M238 209.4H243.9V226H247.1L240.9 234L234.7 226H238Z" fill="#8eaadc"/>
<path d="M238.3 282.9H245.4V305H248.3L241.85 311.2L235.4 305H238.3Z" fill="#8eaadc"/>
<path d="M396 103.2H412.5V101.2L420.8 105.9L412.5 110.6V108.6H396Z" fill="#8eaadc"/>
<path d="M398.4 212.2H417V208.8L426.2 215.2L417 221.6V218.2H398.4Z" fill="#8eaadc"/>
<text x="47.5" y="85.6" font-size="11.6" font-weight="bold" textLength="31.2" lengthAdjust="spacingAndGlyphs">Inflow</text>
<text x="126.8" y="106.9" font-size="11.6" font-weight="bold" textLength="93.5" lengthAdjust="spacingAndGlyphs">Evapotranspiration</text>
<text x="247" y="69.1" font-size="11.6" font-weight="bold" textLength="62.2" lengthAdjust="spacingAndGlyphs">Precipitation</text>
<text x="11.8" y="125.6" font-size="11.6" font-weight="bold" textLength="64.2" lengthAdjust="spacingAndGlyphs">Surface layer</text>
<text x="27.4" y="173.6" font-size="11.6" font-weight="bold" textLength="45.3" lengthAdjust="spacingAndGlyphs">Soil layer</text>
<text x="8.6" y="248" font-size="11.6" font-weight="bold" textLength="63.7" lengthAdjust="spacingAndGlyphs">Storage layer</text>
<text x="23.6" y="308.3" font-size="11.6" font-weight="bold" textLength="50.7" lengthAdjust="spacingAndGlyphs">Native soil</text>
<text x="395.7" y="84.3" font-size="11.6" font-weight="bold" textLength="70.6" lengthAdjust="spacingAndGlyphs">Surface runoff</text>
<text x="395.7" y="98.4" font-size="11.6" font-weight="bold" textLength="49.3" lengthAdjust="spacingAndGlyphs">(overflow)</text>
<text x="251.4" y="151.8" font-size="11.6" font-weight="bold" textLength="52.4" lengthAdjust="spacingAndGlyphs">Infiltration</text>
<text x="251" y="229" font-size="11.6" font-weight="bold" textLength="53.7" lengthAdjust="spacingAndGlyphs">Percolation</text>
<text x="253" y="307" font-size="11.6" font-weight="bold" textLength="38.5" lengthAdjust="spacingAndGlyphs">Seepage</text>
<text x="400" y="195" font-size="11.6" font-weight="bold" textLength="56" lengthAdjust="spacingAndGlyphs">Underdrain</text>
<text x="402.6" y="207.7" font-size="11.6" font-weight="bold" textLength="35.9" lengthAdjust="spacingAndGlyphs">outflow</text>
<text x="402" y="131" font-size="12" font-weight="bold" font-style="italic">S<tspan font-size="8" dy="2.6">d-BIO</tspan></text>
<text x="405.4" y="178.7" font-size="12" font-weight="bold" font-style="italic">D</text>
<text x="406.5" y="262" font-size="12" font-weight="bold" font-style="italic">H<tspan font-size="8" dy="2.2">s</tspan></text>
<rect x="94.4" y="321.5" width="290.4" height="19.7" rx="3.5" fill="#d8e1f2"/>
<text x="109.3" y="336.9" font-size="14.4" font-weight="bold" textLength="261.3" lengthAdjust="spacingAndGlyphs">Hydrological Process of a Bioretention Cell</text>
<rect x="23.5" y="379.9" width="207.3" height="42.1" fill="#fff" stroke="#3a3a3a" stroke-width="1.3"/>
<rect x="252.4" y="379.4" width="194.3" height="42.4" fill="#fff" stroke="#3a3a3a" stroke-width="1.3"/>
<rect x="120.8" y="448.6" width="238.1" height="24.4" fill="#fff" stroke="#3a3a3a" stroke-width="1.3"/>
<rect x="120.3" y="502.9" width="238.4" height="24.5" fill="#fff" stroke="#3a3a3a" stroke-width="1.3"/>
<path d="M177.3 422.9H188.8V437.5H194L182.5 448.7L171 437.5H177.3Z" fill="#afc4e8"/>
<path d="M293 422.9H304.5V437.5H310.3L298.65 448.7L287 437.5H293Z" fill="#afc4e8"/>
<path d="M232.2 473.7H243.2V490.2H249.3L237.65 501.2L226 490.2H232.2Z" fill="#afc4e8"/>
<text x="54.1" y="397.7" font-size="14.4" font-weight="bold" textLength="146.2" lengthAdjust="spacingAndGlyphs">Rainfall Event Statistics</text>
<text x="104.3" y="414.7" font-size="14.4" font-weight="bold" textLength="45.1" lengthAdjust="spacingAndGlyphs">(<tspan font-style="italic">v</tspan>, <tspan font-style="italic">u</tspan>, <tspan font-style="italic">b</tspan>)</text>
<text x="275.7" y="397.7" font-size="14.4" font-weight="bold" textLength="147.3" lengthAdjust="spacingAndGlyphs">Key Parameters of ASM</text>
<text x="275.7" y="414.7" font-size="14.4" font-weight="bold" textLength="147.3" lengthAdjust="spacingAndGlyphs">(<tspan font-style="italic">D</tspan>, <tspan font-style="italic">H<tspan font-size="9.5" dy="3">s</tspan></tspan><tspan>,</tspan><tspan dy="-3"> </tspan><tspan font-style="italic">S<tspan font-size="9.5" dy="3">d-BIO</tspan></tspan><tspan>,</tspan><tspan dy="-3"> </tspan><tspan font-style="italic">K</tspan>, <tspan font-style="italic">K<tspan font-size="9.5" dy="3">sat</tspan></tspan><tspan>,</tspan><tspan dy="-3"> </tspan><tspan font-style="italic">R<tspan font-size="9.5" dy="3">a</tspan></tspan><tspan dy="-3">)</tspan></text>
<text x="144.5" y="465.7" font-size="14.4" font-weight="bold" textLength="190.9" lengthAdjust="spacingAndGlyphs">Analytical Stochastic Approach</text>
<text x="140.4" y="520.3" font-size="14.4" font-weight="bold" textLength="199" lengthAdjust="spacingAndGlyphs">Runoff Reduction Efficiency (<tspan font-style="italic">R<tspan font-size="9.5" dy="3">r</tspan></tspan><tspan dy="-3">)</tspan></text>
<rect x="531.3" y="57.1" width="263" height="130.2" fill="none" stroke="#595959" stroke-width="1.1"/>
<path d="M531.3 187.3v-2.6M583.9 187.3v-2.6M636.5 187.3v-2.6M689.1 187.3v-2.6M741.7 187.3v-2.6M794.3 187.3v-2.6M531.3 187.3h2.6M531.3 165.6h2.6M531.3 143.9h2.6M531.3 122.2h2.6M531.3 100.5h2.6M531.3 78.8h2.6M531.3 57.1h2.6" stroke="#595959" stroke-width="0.8"/>
<text x="531.3" y="195.1" font-size="7.1" text-anchor="middle" fill="#1a1a1a">100</text>
<text x="583.9" y="195.1" font-size="7.1" text-anchor="middle" fill="#1a1a1a">200</text>
<text x="636.5" y="195.1" font-size="7.1" text-anchor="middle" fill="#1a1a1a">300</text>
<text x="689.1" y="195.1" font-size="7.1" text-anchor="middle" fill="#1a1a1a">400</text>
<text x="741.7" y="195.1" font-size="7.1" text-anchor="middle" fill="#1a1a1a">500</text>
<text x="794.3" y="195.1" font-size="7.1" text-anchor="middle" fill="#1a1a1a">600</text>
<text x="528.6" y="189.74" font-size="7.1" text-anchor="end" fill="#1a1a1a">0.4</text>
<text x="528.6" y="168.04" font-size="7.1" text-anchor="end" fill="#1a1a1a">0.5</text>
<text x="528.6" y="146.34" font-size="7.1" text-anchor="end" fill="#1a1a1a">0.6</text>
<text x="528.6" y="124.64" font-size="7.1" text-anchor="end" fill="#1a1a1a">0.7</text>
<text x="528.6" y="102.94" font-size="7.1" text-anchor="end" fill="#1a1a1a">0.8</text>
<text x="528.6" y="81.24" font-size="7.1" text-anchor="end" fill="#1a1a1a">0.9</text>
<text x="528.6" y="59.54" font-size="7.1" text-anchor="end" fill="#1a1a1a">1.0</text>
<path d="M531.3 164.52L535.36 163.24L540.75 161.54L547.17 159.51L554.31 157.26L561.86 154.9L569.52 152.54L576.97 150.28L583.9 148.24L590.47 146.36L597.05 144.51L603.62 142.7L610.2 140.92L616.77 139.17L623.35 137.46L629.92 135.78L636.5 134.13L643.07 132.52L649.65 130.92L656.22 129.36L662.8 127.83L669.38 126.34L675.95 124.9L682.52 123.52L689.1 122.2L695.67 120.95L702.25 119.78L708.82 118.66L715.4 117.59L721.97 116.55L728.55 115.54L735.12 114.53L741.7 113.52L748.63 112.47L756.08 111.37L763.74 110.26L771.29 109.18L778.43 108.17L784.85 107.26L790.24 106.5L794.3 105.92" fill="none" stroke="#3f5fc0" stroke-width="1.1" stroke-linecap="butt"/>
<path d="M531.3 164.52L535.36 162.8L540.75 160.49L547.17 157.73L554.31 154.68L561.86 151.51L569.52 148.37L576.97 145.42L583.9 142.81L590.47 140.51L597.05 138.31L603.62 136.22L610.2 134.2L616.77 132.25L623.35 130.33L629.92 128.43L636.5 126.54L643.07 124.64L649.65 122.76L656.22 120.9L662.8 119.08L669.38 117.31L675.95 115.61L682.52 113.98L689.1 112.44L695.67 111L702.25 109.66L708.82 108.41L715.4 107.21L721.97 106.06L728.55 104.93L735.12 103.81L741.7 102.67L748.63 101.47L756.08 100.22L763.74 98.95L771.29 97.72L778.43 96.56L784.85 95.52L790.24 94.65L794.3 93.99" fill="none" stroke="#f3a44a" stroke-width="1.2" stroke-linecap="butt" stroke-dasharray="5.5 3.2"/>
<path d="M531.3 93.99L535.36 92.68L540.75 90.89L547.17 88.75L554.31 86.39L561.86 83.98L569.52 81.63L576.97 79.5L583.9 77.71L590.47 76.24L597.05 74.91L603.62 73.71L610.2 72.63L616.77 71.64L623.35 70.72L629.92 69.86L636.5 69.04L643.07 68.28L649.65 67.62L656.22 67.04L662.8 66.53L669.38 66.05L675.95 65.6L682.52 65.16L689.1 64.69L695.67 64.23L702.25 63.78L708.82 63.35L715.4 62.93L721.97 62.53L728.55 62.15L735.12 61.79L741.7 61.44L748.63 61.1L756.08 60.77L763.74 60.45L771.29 60.15L778.43 59.88L784.85 59.63L790.24 59.43L794.3 59.27" fill="none" stroke="#f04a3c" stroke-width="1.45" stroke-linecap="round" stroke-dasharray="0.01 5.16"/>
<rect x="529.6" y="172.58" width="3.4" height="3.4" fill="#213f9e"/>
<rect x="582.2" y="148.28" width="3.4" height="3.4" fill="#213f9e"/>
<rect x="634.8" y="132.44" width="3.4" height="3.4" fill="#213f9e"/>
<rect x="687.4" y="120.5" width="3.4" height="3.4" fill="#213f9e"/>
<rect x="740" y="111.39" width="3.4" height="3.4" fill="#213f9e"/>
<rect x="792.6" y="104.01" width="3.4" height="3.4" fill="#213f9e"/>
<circle cx="531.3" cy="173.2" r="1.9" fill="#f0993a"/>
<circle cx="583.9" cy="147.16" r="1.9" fill="#f0993a"/>
<circle cx="636.5" cy="129.14" r="1.9" fill="#f0993a"/>
<circle cx="689.1" cy="115.69" r="1.9" fill="#f0993a"/>
<circle cx="741.7" cy="105.92" r="1.9" fill="#f0993a"/>
<circle cx="794.3" cy="97.9" r="1.9" fill="#f0993a"/>
<path d="M531.3 103.96L533.6 107.96L529 107.96Z" fill="#ee3224"/>
<path d="M583.9 79.65L586.2 83.65L581.6 83.65Z" fill="#ee3224"/>
<path d="M636.5 68.15L638.8 72.15L634.2 72.15Z" fill="#ee3224"/>
<path d="M689.1 61.64L691.4 65.64L686.8 65.64Z" fill="#ee3224"/>
<path d="M741.7 58.39L744 62.39L739.4 62.39Z" fill="#ee3224"/>
<path d="M794.3 56.87L796.6 60.87L792 60.87Z" fill="#ee3224"/>
<rect x="648.4" y="144.9" width="130.8" height="29.8" fill="#fff" stroke="#c8c8c8" stroke-width="0.7"/>
<text x="653.3" y="154.3" font-size="6.9" fill="#1a1a1a">Guangzhou</text>
<rect x="689.88" y="150.28" width="3.23" height="3.23" fill="#213f9e"/>
<text x="700.8" y="154.3" font-size="6.9" fill="#1a1a1a">SWMM</text>
<path d="M743.2 151.9L760.3 151.9" fill="none" stroke="#3f5fc0" stroke-width="1.1" stroke-linecap="butt"/>
<text x="762" y="154.5" font-size="6.9" fill="#1a1a1a">ASM</text>
<text x="653.3" y="162.4" font-size="6.9" fill="#1a1a1a">Jinan</text>
<circle cx="691.5" cy="160" r="1.8" fill="#f0993a"/>
<text x="700.8" y="162.4" font-size="6.9" fill="#1a1a1a">SWMM</text>
<path d="M743.2 160L760.3 160" fill="none" stroke="#f3a44a" stroke-width="1.1" stroke-linecap="butt" stroke-dasharray="5.5 3.2"/>
<text x="762" y="162.6" font-size="6.9" fill="#1a1a1a">ASM</text>
<text x="653.3" y="170.4" font-size="6.9" fill="#1a1a1a">Lanzhou</text>
<path d="M691.5 165.72L693.68 169.52L689.32 169.52Z" fill="#ee3224"/>
<text x="700.8" y="170.4" font-size="6.9" fill="#1a1a1a">SWMM</text>
<path d="M743.2 168L760.3 168" fill="none" stroke="#f04a3c" stroke-width="1.45" stroke-linecap="round" stroke-dasharray="0.01 5.16"/>
<text x="762" y="170.6" font-size="6.9" fill="#1a1a1a">ASM</text>
<text x="662.8" y="207.1" font-size="8.0" text-anchor="middle" fill="#1a1a1a">thickness of storage layer <tspan font-style="italic">H</tspan><tspan font-size="5.5" font-style="italic" dy="2">s</tspan><tspan dy="-2"> (mm)</tspan></text>
<text x="0" y="0" font-size="7.7" text-anchor="middle" fill="#1a1a1a" transform="translate(515 121.8) rotate(-90)">runoff reduction efficiency <tspan font-style="italic">R</tspan><tspan font-size="5.2" font-style="italic" dy="1.4">r</tspan></text>
<rect x="531.3" y="223.8" width="263" height="137.8" fill="none" stroke="#595959" stroke-width="1.1"/>
<path d="M531.3 361.6v-2.6M575.13 361.6v-2.6M618.97 361.6v-2.6M662.8 361.6v-2.6M706.63 361.6v-2.6M750.47 361.6v-2.6M794.3 361.6v-2.6M531.3 361.6h2.6M531.3 344.38h2.6M531.3 327.15h2.6M531.3 309.93h2.6M531.3 292.7h2.6M531.3 275.48h2.6M531.3 258.25h2.6M531.3 241.03h2.6M531.3 223.8h2.6" stroke="#595959" stroke-width="0.8"/>
<text x="531.3" y="370.2" font-size="7.1" text-anchor="middle" fill="#1a1a1a">300</text>
<text x="575.13" y="370.2" font-size="7.1" text-anchor="middle" fill="#1a1a1a">400</text>
<text x="618.97" y="370.2" font-size="7.1" text-anchor="middle" fill="#1a1a1a">500</text>
<text x="662.8" y="370.2" font-size="7.1" text-anchor="middle" fill="#1a1a1a">600</text>
<text x="706.63" y="370.2" font-size="7.1" text-anchor="middle" fill="#1a1a1a">700</text>
<text x="750.47" y="370.2" font-size="7.1" text-anchor="middle" fill="#1a1a1a">800</text>
<text x="794.3" y="370.2" font-size="7.1" text-anchor="middle" fill="#1a1a1a">900</text>
<text x="528.6" y="364.04" font-size="7.1" text-anchor="end" fill="#1a1a1a">0.2</text>
<text x="528.6" y="346.82" font-size="7.1" text-anchor="end" fill="#1a1a1a">0.3</text>
<text x="528.6" y="329.59" font-size="7.1" text-anchor="end" fill="#1a1a1a">0.4</text>
<text x="528.6" y="312.37" font-size="7.1" text-anchor="end" fill="#1a1a1a">0.5</text>
<text x="528.6" y="295.14" font-size="7.1" text-anchor="end" fill="#1a1a1a">0.6</text>
<text x="528.6" y="277.92" font-size="7.1" text-anchor="end" fill="#1a1a1a">0.7</text>
<text x="528.6" y="260.69" font-size="7.1" text-anchor="end" fill="#1a1a1a">0.8</text>
<text x="528.6" y="243.47" font-size="7.1" text-anchor="end" fill="#1a1a1a">0.9</text>
<text x="528.6" y="226.24" font-size="7.1" text-anchor="end" fill="#1a1a1a">1.0</text>
<path d="M531.3 296.15L534.68 295.92L539.18 295.61L544.53 295.25L550.48 294.85L556.77 294.43L563.15 294.01L569.35 293.59L575.13 293.22L580.61 292.86L586.09 292.51L591.57 292.16L597.05 291.82L602.53 291.47L608.01 291.13L613.49 290.8L618.97 290.46L624.45 290.13L629.92 289.8L635.4 289.48L640.88 289.16L646.36 288.84L651.84 288.52L657.32 288.2L662.8 287.88L668.28 287.55L673.76 287.23L679.24 286.9L684.72 286.57L690.2 286.25L695.67 285.93L701.15 285.61L706.63 285.29L712.11 284.98L717.59 284.67L723.07 284.37L728.55 284.07L734.03 283.77L739.51 283.47L744.99 283.17L750.47 282.88L756.25 282.58L762.45 282.26L768.83 281.93L775.12 281.61L781.07 281.31L786.42 281.04L790.92 280.81L794.3 280.64" fill="none" stroke="#3f5fc0" stroke-width="1.1" stroke-linecap="butt"/>
<path d="M531.3 291.84L534.68 291.57L539.18 291.22L544.53 290.8L550.48 290.33L556.77 289.84L563.15 289.34L569.35 288.85L575.13 288.39L580.61 287.96L586.09 287.52L591.57 287.09L597.05 286.65L602.53 286.22L608.01 285.79L613.49 285.36L618.97 284.95L624.45 284.54L629.92 284.15L635.4 283.76L640.88 283.38L646.36 283L651.84 282.62L657.32 282.23L662.8 281.85L668.28 281.46L673.76 281.07L679.24 280.68L684.72 280.29L690.2 279.9L695.67 279.51L701.15 279.13L706.63 278.75L712.11 278.37L717.59 278L723.07 277.64L728.55 277.27L734.03 276.91L739.51 276.55L744.99 276.18L750.47 275.82L756.25 275.43L762.45 275.02L768.83 274.59L775.12 274.17L781.07 273.77L786.42 273.42L790.92 273.12L794.3 272.89" fill="none" stroke="#f3a44a" stroke-width="1.2" stroke-linecap="butt" stroke-dasharray="5.5 3.2"/>
<path d="M531.3 239.3L534.68 239.18L539.18 239.02L544.53 238.83L550.48 238.62L556.77 238.4L563.15 238.18L569.35 237.96L575.13 237.75L580.61 237.56L586.09 237.36L591.57 237.16L597.05 236.97L602.53 236.77L608.01 236.58L613.49 236.39L618.97 236.2L624.45 236.02L629.92 235.85L635.4 235.68L640.88 235.51L646.36 235.35L651.84 235.18L657.32 235L662.8 234.82L668.28 234.64L673.76 234.44L679.24 234.25L684.72 234.05L690.2 233.85L695.67 233.65L701.15 233.46L706.63 233.27L712.11 233.09L717.59 232.92L723.07 232.74L728.55 232.57L734.03 232.4L739.51 232.24L744.99 232.07L750.47 231.9L756.25 231.71L762.45 231.52L768.83 231.32L775.12 231.12L781.07 230.93L786.42 230.77L790.92 230.62L794.3 230.52" fill="none" stroke="#f04a3c" stroke-width="1.45" stroke-linecap="round" stroke-dasharray="0.01 5.16"/>
<rect x="529.6" y="295.82" width="3.4" height="3.4" fill="#213f9e"/>
<rect x="573.43" y="294.45" width="3.4" height="3.4" fill="#213f9e"/>
<rect x="617.27" y="292.72" width="3.4" height="3.4" fill="#213f9e"/>
<rect x="661.1" y="291.86" width="3.4" height="3.4" fill="#213f9e"/>
<rect x="704.93" y="291" width="3.4" height="3.4" fill="#213f9e"/>
<rect x="748.77" y="290.14" width="3.4" height="3.4" fill="#213f9e"/>
<rect x="792.6" y="289.28" width="3.4" height="3.4" fill="#213f9e"/>
<circle cx="531.3" cy="294.42" r="1.9" fill="#f0993a"/>
<circle cx="575.13" cy="293.22" r="1.9" fill="#f0993a"/>
<circle cx="618.97" cy="291.84" r="1.9" fill="#f0993a"/>
<circle cx="662.8" cy="290.12" r="1.9" fill="#f0993a"/>
<circle cx="706.63" cy="288.39" r="1.9" fill="#f0993a"/>
<circle cx="750.47" cy="287.53" r="1.9" fill="#f0993a"/>
<circle cx="794.3" cy="285.81" r="1.9" fill="#f0993a"/>
<path d="M531.3 241.21L533.6 245.21L529 245.21Z" fill="#ee3224"/>
<path d="M575.13 240.35L577.43 244.35L572.83 244.35Z" fill="#ee3224"/>
<path d="M618.97 239.49L621.27 243.49L616.67 243.49Z" fill="#ee3224"/>
<path d="M662.8 239.14L665.1 243.14L660.5 243.14Z" fill="#ee3224"/>
<path d="M706.63 238.63L708.93 242.63L704.33 242.63Z" fill="#ee3224"/>
<path d="M750.47 238.11L752.77 242.11L748.17 242.11Z" fill="#ee3224"/>
<path d="M794.3 237.76L796.6 241.76L792 241.76Z" fill="#ee3224"/>
<rect x="651" y="315.4" width="131.9" height="31.4" fill="#fff" stroke="#c8c8c8" stroke-width="0.7"/>
<text x="655.9" y="326.4" font-size="6.9" fill="#1a1a1a">Guangzhou</text>
<rect x="692.49" y="322.38" width="3.23" height="3.23" fill="#213f9e"/>
<text x="703.4" y="326.4" font-size="6.9" fill="#1a1a1a">SWMM</text>
<path d="M745.8 324L762.9 324" fill="none" stroke="#3f5fc0" stroke-width="1.1" stroke-linecap="butt"/>
<text x="764.6" y="326.6" font-size="6.9" fill="#1a1a1a">ASM</text>
<text x="655.9" y="334.6" font-size="6.9" fill="#1a1a1a">Jinan</text>
<circle cx="694.1" cy="332.2" r="1.8" fill="#f0993a"/>
<text x="703.4" y="334.6" font-size="6.9" fill="#1a1a1a">SWMM</text>
<path d="M745.8 332.2L762.9 332.2" fill="none" stroke="#f3a44a" stroke-width="1.1" stroke-linecap="butt" stroke-dasharray="5.5 3.2"/>
<text x="764.6" y="334.8" font-size="6.9" fill="#1a1a1a">ASM</text>
<text x="655.9" y="343.1" font-size="6.9" fill="#1a1a1a">Lanzhou</text>
<path d="M694.1 338.42L696.28 342.22L691.92 342.22Z" fill="#ee3224"/>
<text x="703.4" y="343.1" font-size="6.9" fill="#1a1a1a">SWMM</text>
<path d="M745.8 340.7L762.9 340.7" fill="none" stroke="#f04a3c" stroke-width="1.45" stroke-linecap="round" stroke-dasharray="0.01 5.16"/>
<text x="764.6" y="343.3" font-size="6.9" fill="#1a1a1a">ASM</text>
<text x="662.8" y="383.1" font-size="8.0" text-anchor="middle" fill="#1a1a1a">depth of soil layer <tspan font-style="italic">D</tspan> (mm)</text>
<text x="0" y="0" font-size="7.7" text-anchor="middle" fill="#1a1a1a" transform="translate(515 292.3) rotate(-90)">runoff reduction efficiency <tspan font-style="italic">R</tspan><tspan font-size="5.2" font-style="italic" dy="1.4">r</tspan></text>
<rect x="531.3" y="394.9" width="268.2" height="136.4" fill="none" stroke="#595959" stroke-width="1.1"/>
<path d="M531.3 531.3v-2.6M584.94 531.3v-2.6M638.58 531.3v-2.6M692.22 531.3v-2.6M745.86 531.3v-2.6M799.5 531.3v-2.6M531.3 531.3h2.6M531.3 514.25h2.6M531.3 497.2h2.6M531.3 480.15h2.6M531.3 463.1h2.6M531.3 446.05h2.6M531.3 429h2.6M531.3 411.95h2.6M531.3 394.9h2.6" stroke="#595959" stroke-width="0.8"/>
<text x="531.3" y="539.4" font-size="7.1" text-anchor="middle" fill="#1a1a1a">100</text>
<text x="584.94" y="539.4" font-size="7.1" text-anchor="middle" fill="#1a1a1a">200</text>
<text x="638.58" y="539.4" font-size="7.1" text-anchor="middle" fill="#1a1a1a">300</text>
<text x="692.22" y="539.4" font-size="7.1" text-anchor="middle" fill="#1a1a1a">400</text>
<text x="745.86" y="539.4" font-size="7.1" text-anchor="middle" fill="#1a1a1a">500</text>
<text x="799.5" y="539.4" font-size="7.1" text-anchor="middle" fill="#1a1a1a">600</text>
<text x="528.6" y="533.74" font-size="7.1" text-anchor="end" fill="#1a1a1a">0.0</text>
<text x="528.6" y="516.69" font-size="7.1" text-anchor="end" fill="#1a1a1a">0.1</text>
<text x="528.6" y="499.64" font-size="7.1" text-anchor="end" fill="#1a1a1a">0.2</text>
<text x="528.6" y="482.59" font-size="7.1" text-anchor="end" fill="#1a1a1a">0.3</text>
<text x="528.6" y="465.54" font-size="7.1" text-anchor="end" fill="#1a1a1a">0.4</text>
<text x="528.6" y="448.49" font-size="7.1" text-anchor="end" fill="#1a1a1a">0.5</text>
<text x="528.6" y="431.44" font-size="7.1" text-anchor="end" fill="#1a1a1a">0.6</text>
<text x="528.6" y="414.39" font-size="7.1" text-anchor="end" fill="#1a1a1a">0.7</text>
<text x="528.6" y="397.34" font-size="7.1" text-anchor="end" fill="#1a1a1a">0.8</text>
<path d="M531.3 500.78L535.44 500.3L540.94 499.67L547.49 498.91L554.77 498.06L562.47 497.18L570.27 496.28L577.87 495.43L584.94 494.64L591.64 493.91L598.35 493.19L605.05 492.48L611.76 491.78L618.46 491.08L625.17 490.39L631.88 489.7L638.58 489.02L645.28 488.33L651.99 487.65L658.69 486.98L665.4 486.31L672.11 485.65L678.81 485L685.51 484.36L692.22 483.73L698.92 483.12L705.63 482.53L712.34 481.95L719.04 481.38L725.75 480.81L732.45 480.25L739.15 479.69L745.86 479.13L752.93 478.53L760.53 477.9L768.33 477.26L776.03 476.62L783.31 476.02L789.86 475.49L795.36 475.03L799.5 474.69" fill="none" stroke="#3f5fc0" stroke-width="1.1" stroke-linecap="butt"/>
<path d="M531.3 499.93L535.44 499.25L540.94 498.36L547.49 497.29L554.77 496.1L562.47 494.85L570.27 493.59L577.87 492.36L584.94 491.23L591.64 490.17L598.35 489.11L605.05 488.05L611.76 487L618.46 485.96L625.17 484.92L631.88 483.9L638.58 482.88L645.28 481.87L651.99 480.86L658.69 479.85L665.4 478.86L672.11 477.88L678.81 476.91L685.51 475.96L692.22 475.03L698.92 474.13L705.63 473.25L712.34 472.38L719.04 471.53L725.75 470.69L732.45 469.86L739.15 469.04L745.86 468.21L752.93 467.36L760.53 466.45L768.33 465.53L776.03 464.63L783.31 463.79L789.86 463.03L795.36 462.39L799.5 461.91" fill="none" stroke="#f3a44a" stroke-width="1.2" stroke-linecap="butt" stroke-dasharray="5.5 3.2"/>
<path d="M531.3 465.15L535.44 463.98L540.94 462.41L547.49 460.54L554.77 458.48L562.47 456.31L570.27 454.16L577.87 452.13L584.94 450.31L591.64 448.68L598.35 447.1L605.05 445.59L611.76 444.11L618.46 442.66L625.17 441.23L631.88 439.81L638.58 438.38L645.28 436.94L651.99 435.51L658.69 434.08L665.4 432.68L672.11 431.29L678.81 429.93L685.51 428.59L692.22 427.29L698.92 426.03L705.63 424.8L712.34 423.6L719.04 422.43L725.75 421.27L732.45 420.14L739.15 419.02L745.86 417.92L752.93 416.78L760.53 415.6L768.33 414.4L776.03 413.24L783.31 412.15L789.86 411.18L795.36 410.36L799.5 409.73" fill="none" stroke="#f04a3c" stroke-width="1.45" stroke-linecap="round" stroke-dasharray="0.01 5.16"/>
<rect x="529.6" y="500.61" width="3.4" height="3.4" fill="#213f9e"/>
<rect x="583.24" y="491.24" width="3.4" height="3.4" fill="#213f9e"/>
<rect x="636.88" y="484.42" width="3.4" height="3.4" fill="#213f9e"/>
<rect x="690.52" y="478.45" width="3.4" height="3.4" fill="#213f9e"/>
<rect x="744.16" y="474.19" width="3.4" height="3.4" fill="#213f9e"/>
<rect x="797.8" y="469.93" width="3.4" height="3.4" fill="#213f9e"/>
<circle cx="531.3" cy="500.61" r="1.9" fill="#f0993a"/>
<circle cx="584.94" cy="491.23" r="1.9" fill="#f0993a"/>
<circle cx="638.58" cy="484.41" r="1.9" fill="#f0993a"/>
<circle cx="692.22" cy="477.59" r="1.9" fill="#f0993a"/>
<circle cx="745.86" cy="471.62" r="1.9" fill="#f0993a"/>
<circle cx="799.5" cy="466.51" r="1.9" fill="#f0993a"/>
<path d="M531.3 466.84L533.6 470.84L529 470.84Z" fill="#ee3224"/>
<path d="M584.94 447.06L587.24 451.06L582.64 451.06Z" fill="#ee3224"/>
<path d="M638.58 432.57L640.88 436.57L636.28 436.57Z" fill="#ee3224"/>
<path d="M692.22 421.14L694.52 425.14L689.92 425.14Z" fill="#ee3224"/>
<path d="M745.86 411.77L748.16 415.77L743.56 415.77Z" fill="#ee3224"/>
<path d="M799.5 404.78L801.8 408.78L797.2 408.78Z" fill="#ee3224"/>
<rect x="667.4" y="491.3" width="126.8" height="33.2" fill="#fff" stroke="#c8c8c8" stroke-width="0.7"/>
<text x="672.3" y="501.8" font-size="6.9" fill="#1a1a1a">Guangzhou</text>
<rect x="708.88" y="497.78" width="3.23" height="3.23" fill="#213f9e"/>
<text x="719.8" y="501.8" font-size="6.9" fill="#1a1a1a">SWMM</text>
<path d="M762.2 499.4L779.3 499.4" fill="none" stroke="#3f5fc0" stroke-width="1.1" stroke-linecap="butt"/>
<text x="781" y="502" font-size="6.9" fill="#1a1a1a">ASM</text>
<text x="672.3" y="510.4" font-size="6.9" fill="#1a1a1a">Jinan</text>
<circle cx="710.5" cy="508" r="1.8" fill="#f0993a"/>
<text x="719.8" y="510.4" font-size="6.9" fill="#1a1a1a">SWMM</text>
<path d="M762.2 508L779.3 508" fill="none" stroke="#f3a44a" stroke-width="1.1" stroke-linecap="butt" stroke-dasharray="5.5 3.2"/>
<text x="781" y="510.6" font-size="6.9" fill="#1a1a1a">ASM</text>
<text x="672.3" y="518.5" font-size="6.9" fill="#1a1a1a">Lanzhou</text>
<path d="M710.5 513.82L712.68 517.62L708.32 517.62Z" fill="#ee3224"/>
<text x="719.8" y="518.5" font-size="6.9" fill="#1a1a1a">SWMM</text>
<path d="M762.2 516.1L779.3 516.1" fill="none" stroke="#f04a3c" stroke-width="1.45" stroke-linecap="round" stroke-dasharray="0.01 5.16"/>
<text x="781" y="518.7" font-size="6.9" fill="#1a1a1a">ASM</text>
<text x="665.4" y="551.8" font-size="8.0" text-anchor="middle" fill="#1a1a1a">thickness of storage layer <tspan font-style="italic">H</tspan><tspan font-size="5.5" font-style="italic" dy="2">s</tspan><tspan dy="-2"> (mm)</tspan></text>
<text x="0" y="0" font-size="7.7" text-anchor="middle" fill="#1a1a1a" transform="translate(515 462.7) rotate(-90)">runoff reduction efficiency <tspan font-style="italic">R</tspan><tspan font-size="5.2" font-style="italic" dy="1.4">r</tspan></text>
<rect x="943.5" y="49.7" width="190.4" height="19.9" rx="3.5" fill="#d8e1f2"/>
<text x="952.4" y="64.9" font-size="14.8" font-weight="bold" textLength="173.1" lengthAdjust="spacingAndGlyphs">Runoff Reduction Efficiency</text>
<rect x="945.1" y="211.1" width="190.2" height="19.5" rx="3.5" fill="#d8e1f2"/>
<text x="976" y="226" font-size="14.8" font-weight="bold" textLength="129.6" lengthAdjust="spacingAndGlyphs">Mean Water Content</text>
<rect x="945.6" y="381.6" width="190" height="20" rx="3.5" fill="#d8e1f2"/>
<text x="963.2" y="396.7" font-size="14.8" font-weight="bold" textLength="155.1" lengthAdjust="spacingAndGlyphs">Processing Time Fraction</text>
<path d="M875.3 70.3V188.9H1116.6" fill="none" stroke="#444" stroke-width="1.2"/>
<path d="M875.3 188.9v-2.2M923.56 188.9v-2.2M971.82 188.9v-2.2M1020.08 188.9v-2.2M1068.34 188.9v-2.2M1116.6 188.9v-2.2M875.3 182h2.2M875.3 167.11h2.2M875.3 152.23h2.2M875.3 137.34h2.2M875.3 122.46h2.2M875.3 107.57h2.2M875.3 92.69h2.2M875.3 77.8h2.2M899.43 188.9v-1.32M947.69 188.9v-1.32M995.95 188.9v-1.32M1044.21 188.9v-1.32M1092.47 188.9v-1.32M875.3 174.56h1.32M875.3 159.67h1.32M875.3 144.79h1.32M875.3 129.9h1.32M875.3 115.01h1.32M875.3 100.13h1.32M875.3 85.24h1.32M875.3 70.36h1.32" stroke="#444" stroke-width="0.8"/>
<text x="875.3" y="197.2" font-size="6.9" text-anchor="middle" fill="#1a1a1a">100</text>
<text x="923.56" y="197.2" font-size="6.9" text-anchor="middle" fill="#1a1a1a">200</text>
<text x="971.82" y="197.2" font-size="6.9" text-anchor="middle" fill="#1a1a1a">300</text>
<text x="1020.08" y="197.2" font-size="6.9" text-anchor="middle" fill="#1a1a1a">400</text>
<text x="1068.34" y="197.2" font-size="6.9" text-anchor="middle" fill="#1a1a1a">500</text>
<text x="1116.6" y="197.2" font-size="6.9" text-anchor="middle" fill="#1a1a1a">600</text>
<text x="873.1" y="184.28" font-size="6.9" text-anchor="end" fill="#1a1a1a">0.60</text>
<text x="873.1" y="169.39" font-size="6.9" text-anchor="end" fill="#1a1a1a">0.65</text>
<text x="873.1" y="154.51" font-size="6.9" text-anchor="end" fill="#1a1a1a">0.70</text>
<text x="873.1" y="139.62" font-size="6.9" text-anchor="end" fill="#1a1a1a">0.75</text>
<text x="873.1" y="124.73" font-size="6.9" text-anchor="end" fill="#1a1a1a">0.80</text>
<text x="873.1" y="109.85" font-size="6.9" text-anchor="end" fill="#1a1a1a">0.85</text>
<text x="873.1" y="94.96" font-size="6.9" text-anchor="end" fill="#1a1a1a">0.90</text>
<text x="873.1" y="80.08" font-size="6.9" text-anchor="end" fill="#1a1a1a">0.95</text>
<path d="M875.3 176.05L879.02 173.59L883.97 170.27L889.86 166.3L896.41 161.92L903.34 157.38L910.36 152.9L917.2 148.72L923.56 145.08L929.59 141.88L935.62 138.85L941.66 135.97L947.69 133.23L953.72 130.61L959.75 128.11L965.79 125.69L971.82 123.35L977.85 121.11L983.88 119L989.92 116.99L995.95 115.09L1001.98 113.27L1008.01 111.52L1014.05 109.82L1020.08 108.17L1026.11 106.57L1032.14 105.04L1038.18 103.57L1044.21 102.18L1050.24 100.84L1056.27 99.56L1062.31 98.33L1068.34 97.15L1074.7 96L1081.54 94.87L1088.56 93.77L1095.49 92.74L1102.04 91.8L1107.93 90.96L1112.88 90.26L1116.6 89.71" fill="none" stroke="#6464c8" stroke-width="1.0" stroke-linecap="butt" stroke-dasharray="5 2 1 2"/>
<circle cx="875.3" cy="176.05" r="1.8" fill="#6464c8"/>
<circle cx="923.56" cy="145.08" r="1.8" fill="#6464c8"/>
<circle cx="971.82" cy="123.35" r="1.8" fill="#6464c8"/>
<circle cx="1020.08" cy="108.17" r="1.8" fill="#6464c8"/>
<circle cx="1068.34" cy="97.15" r="1.8" fill="#6464c8"/>
<circle cx="1116.6" cy="89.71" r="1.8" fill="#6464c8"/>
<path d="M875.3 152.23L879.02 150.34L883.97 147.79L889.86 144.74L896.41 141.38L903.34 137.89L910.36 134.44L917.2 131.22L923.56 128.41L929.59 125.93L935.62 123.57L941.66 121.32L947.69 119.18L953.72 117.13L959.75 115.17L965.79 113.27L971.82 111.44L977.85 109.69L983.88 108.03L989.92 106.45L995.95 104.95L1001.98 103.51L1008.01 102.14L1014.05 100.82L1020.08 99.53L1026.11 98.3L1032.14 97.14L1038.18 96.04L1044.21 94.99L1050.24 93.99L1056.27 93.03L1062.31 92.1L1068.34 91.2L1074.7 90.3L1081.54 89.4L1088.56 88.53L1095.49 87.7L1102.04 86.94L1107.93 86.26L1112.88 85.69L1116.6 85.24" fill="none" stroke="#32a05a" stroke-width="1.0" stroke-linecap="butt" stroke-dasharray="4 1.6 1 1.6"/>
<path d="M875.3 150.14L877.2 152.23L875.3 154.32L873.4 152.23Z" fill="#32a05a"/>
<path d="M923.56 126.32L925.46 128.41L923.56 130.5L921.66 128.41Z" fill="#32a05a"/>
<path d="M971.82 109.35L973.72 111.44L971.82 113.53L969.92 111.44Z" fill="#32a05a"/>
<path d="M1020.08 97.44L1021.98 99.53L1020.08 101.62L1018.18 99.53Z" fill="#32a05a"/>
<path d="M1068.34 89.11L1070.24 91.2L1068.34 93.29L1066.44 91.2Z" fill="#32a05a"/>
<path d="M1116.6 83.15L1118.5 85.24L1116.6 87.33L1114.7 85.24Z" fill="#32a05a"/>
<path d="M875.3 134.37L879.02 132.88L883.97 130.86L889.86 128.46L896.41 125.81L903.34 123.05L910.36 120.34L917.2 117.81L923.56 115.61L929.59 113.68L935.62 111.85L941.66 110.13L947.69 108.48L953.72 106.91L959.75 105.4L965.79 103.94L971.82 102.51L977.85 101.13L983.88 99.8L989.92 98.53L995.95 97.32L1001.98 96.16L1008.01 95.05L1014.05 93.99L1020.08 92.98L1026.11 92.03L1032.14 91.15L1038.18 90.32L1044.21 89.54L1050.24 88.8L1056.27 88.09L1062.31 87.41L1068.34 86.73L1074.7 86.06L1081.54 85.39L1088.56 84.73L1095.49 84.11L1102.04 83.54L1107.93 83.03L1112.88 82.6L1116.6 82.27" fill="none" stroke="#cd4646" stroke-width="1.0" stroke-linecap="butt" stroke-dasharray="3.5 1.8 1 1.8 1 1.8"/>
<path d="M875.3 136.46L877.29 132.94L873.3 132.94Z" fill="#cd4646"/>
<path d="M923.56 117.7L925.55 114.18L921.56 114.18Z" fill="#cd4646"/>
<path d="M971.82 104.6L973.81 101.09L969.82 101.09Z" fill="#cd4646"/>
<path d="M1020.08 95.07L1022.07 91.56L1018.08 91.56Z" fill="#cd4646"/>
<path d="M1068.34 88.82L1070.33 85.31L1066.35 85.31Z" fill="#cd4646"/>
<path d="M1116.6 84.36L1118.59 80.84L1114.61 80.84Z" fill="#cd4646"/>
<path d="M875.3 107.57L879.02 106.65L883.97 105.4L889.86 103.91L896.41 102.27L903.34 100.56L910.36 98.88L917.2 97.32L923.56 95.96L929.59 94.77L935.62 93.64L941.66 92.58L947.69 91.57L953.72 90.61L959.75 89.68L965.79 88.79L971.82 87.92L977.85 87.09L983.88 86.3L989.92 85.55L995.95 84.83L1001.98 84.15L1008.01 83.5L1014.05 82.87L1020.08 82.27L1026.11 81.69L1032.14 81.14L1038.18 80.63L1044.21 80.14L1050.24 79.68L1056.27 79.24L1062.31 78.81L1068.34 78.4L1074.7 77.99L1081.54 77.58L1088.56 77.19L1095.49 76.81L1102.04 76.47L1107.93 76.17L1112.88 75.91L1116.6 75.72" fill="none" stroke="#fab446" stroke-width="1.0" stroke-linecap="butt"/>
<rect x="873.68" y="105.96" width="3.23" height="3.23" fill="#fab446"/>
<rect x="921.94" y="94.35" width="3.23" height="3.23" fill="#fab446"/>
<rect x="970.2" y="86.31" width="3.23" height="3.23" fill="#fab446"/>
<rect x="1018.46" y="80.65" width="3.23" height="3.23" fill="#fab446"/>
<rect x="1066.72" y="76.78" width="3.23" height="3.23" fill="#fab446"/>
<rect x="1114.98" y="74.1" width="3.23" height="3.23" fill="#fab446"/>
<path d="M875.3 93.58L879.02 93.01L883.97 92.25L889.86 91.33L896.41 90.32L903.34 89.27L910.36 88.24L917.2 87.28L923.56 86.43L929.59 85.69L935.62 84.99L941.66 84.32L947.69 83.68L953.72 83.07L959.75 82.48L965.79 81.92L971.82 81.37L977.85 80.85L983.88 80.35L989.92 79.87L995.95 79.42L1001.98 78.99L1008.01 78.57L1014.05 78.18L1020.08 77.8L1026.11 77.44L1032.14 77.11L1038.18 76.81L1044.21 76.52L1050.24 76.24L1056.27 75.97L1062.31 75.69L1068.34 75.42L1074.7 75.13L1081.54 74.83L1088.56 74.52L1095.49 74.23L1102.04 73.95L1107.93 73.7L1112.88 73.49L1116.6 73.33" fill="none" stroke="#46b9d7" stroke-width="1.0" stroke-linecap="butt" stroke-dasharray="5 3"/>
<circle cx="875.3" cy="93.58" r="1.8" fill="#46b9d7"/>
<circle cx="923.56" cy="86.43" r="1.8" fill="#46b9d7"/>
<circle cx="971.82" cy="81.37" r="1.8" fill="#46b9d7"/>
<circle cx="1020.08" cy="77.8" r="1.8" fill="#46b9d7"/>
<circle cx="1068.34" cy="75.42" r="1.8" fill="#46b9d7"/>
<circle cx="1116.6" cy="73.33" r="1.8" fill="#46b9d7"/>
<path d="M875.3 85.24L879.02 84.87L883.97 84.36L889.86 83.75L896.41 83.08L903.34 82.39L910.36 81.7L917.2 81.05L923.56 80.48L929.59 79.97L935.62 79.47L941.66 78.99L947.69 78.53L953.72 78.09L959.75 77.67L965.79 77.27L971.82 76.91L977.85 76.57L983.88 76.27L989.92 75.99L995.95 75.73L1001.98 75.5L1008.01 75.27L1014.05 75.05L1020.08 74.82L1026.11 74.6L1032.14 74.4L1038.18 74.2L1044.21 74L1050.24 73.82L1056.27 73.65L1062.31 73.49L1068.34 73.33L1074.7 73.19L1081.54 73.05L1088.56 72.92L1095.49 72.8L1102.04 72.68L1107.93 72.59L1112.88 72.51L1116.6 72.44" fill="none" stroke="#3c6ec8" stroke-width="1.25" stroke-linecap="round" stroke-dasharray="0.01 3.9"/>
<path d="M875.3 82.96L877.48 86.76L873.12 86.76Z" fill="#3c6ec8"/>
<path d="M923.56 78.2L925.74 82L921.38 82Z" fill="#3c6ec8"/>
<path d="M971.82 74.63L974 78.43L969.63 78.43Z" fill="#3c6ec8"/>
<path d="M1020.08 72.54L1022.26 76.34L1017.89 76.34Z" fill="#3c6ec8"/>
<path d="M1068.34 71.05L1070.52 74.85L1066.15 74.85Z" fill="#3c6ec8"/>
<path d="M1116.6 70.16L1118.78 73.96L1114.41 73.96Z" fill="#3c6ec8"/>
<rect x="1039.1" y="140.4" width="77.5" height="44.2" fill="#fff" stroke="#c8c8c8" stroke-width="0.7"/>
<path d="M1077.3 144.4L1086.9 144.4" fill="none" stroke="#6464c8" stroke-width="1.0" stroke-linecap="butt" stroke-dasharray="5 2 1 2"/>
<circle cx="1082.1" cy="144.4" r="1.23" fill="#6464c8"/>
<text x="1089.6" y="146.7" font-size="6.6" fill="#1e1e1e" textLength="26" lengthAdjust="spacingAndGlyphs">D=300mm</text>
<path d="M1077.3 151.7L1086.9 151.7" fill="none" stroke="#32a05a" stroke-width="1.0" stroke-linecap="butt" stroke-dasharray="4 1.6 1 1.6"/>
<path d="M1082.1 150.27L1083.4 151.7L1082.1 153.13L1080.8 151.7Z" fill="#32a05a"/>
<text x="1089.6" y="154" font-size="6.6" fill="#1e1e1e" textLength="26" lengthAdjust="spacingAndGlyphs">D=600mm</text>
<path d="M1077.3 159L1086.9 159" fill="none" stroke="#cd4646" stroke-width="1.0" stroke-linecap="butt" stroke-dasharray="3.5 1.8 1 1.8 1 1.8"/>
<path d="M1082.1 160.43L1083.46 158.03L1080.73 158.03Z" fill="#cd4646"/>
<text x="1089.6" y="161.3" font-size="6.6" fill="#1e1e1e" textLength="26" lengthAdjust="spacingAndGlyphs">D=900mm</text>
<path d="M1077.3 166.3L1086.9 166.3" fill="none" stroke="#fab446" stroke-width="1.0" stroke-linecap="butt"/>
<rect x="1080.99" y="165.2" width="2.21" height="2.21" fill="#fab446"/>
<text x="1089.6" y="168.6" font-size="6.6" fill="#1e1e1e" textLength="26" lengthAdjust="spacingAndGlyphs">D=300mm</text>
<path d="M1077.3 173.6L1086.9 173.6" fill="none" stroke="#46b9d7" stroke-width="1.0" stroke-linecap="butt" stroke-dasharray="5 3"/>
<circle cx="1082.1" cy="173.6" r="1.23" fill="#46b9d7"/>
<text x="1089.6" y="175.9" font-size="6.6" fill="#1e1e1e" textLength="26" lengthAdjust="spacingAndGlyphs">D=600mm</text>
<path d="M1077.3 180.9L1086.9 180.9" fill="none" stroke="#3c6ec8" stroke-width="1.25" stroke-linecap="round" stroke-dasharray="0.01 3.9"/>
<path d="M1082.1 179.34L1083.59 181.94L1080.61 181.94Z" fill="#3c6ec8"/>
<text x="1089.6" y="183.2" font-size="6.6" fill="#1e1e1e" textLength="26" lengthAdjust="spacingAndGlyphs">D=900mm</text>
<text x="1040.4" y="154.1" font-size="6.6" fill="#1e1e1e" textLength="28.5" lengthAdjust="spacingAndGlyphs">K=3.4mm/h</text>
<text x="1040.4" y="175.9" font-size="6.6" fill="#1e1e1e" textLength="32.5" lengthAdjust="spacingAndGlyphs">K=10.9mm/h</text>
<text x="995.2" y="207.8" font-size="6.9" text-anchor="middle" fill="#1e1e1e">depth of storage layer <tspan font-style="italic">H</tspan><tspan font-size="4.8" font-style="italic" dy="1.8">s</tspan><tspan dy="-1.8"> (mm)</tspan></text>
<text x="0" y="0" font-size="6.8" text-anchor="middle" fill="#1e1e1e" transform="translate(856.2 129.7) rotate(-90)"><tspan font-style="italic">R</tspan><tspan font-size="5.2" font-style="italic" dy="1.4">r</tspan><tspan dy="-1.4">(ASM)</tspan></text>
<path d="M878.3 236.6V355.5H1107.4" fill="none" stroke="#444" stroke-width="1.2"/>
<path d="M878.3 355.5v-2.2M924.12 355.5v-2.2M969.94 355.5v-2.2M1015.76 355.5v-2.2M1061.58 355.5v-2.2M1107.4 355.5v-2.2M878.3 355.5h2.2M878.3 335.68h2.2M878.3 315.87h2.2M878.3 296.05h2.2M878.3 276.23h2.2M878.3 256.42h2.2M878.3 236.6h2.2M901.21 355.5v-1.32M947.03 355.5v-1.32M992.85 355.5v-1.32M1038.67 355.5v-1.32M1084.49 355.5v-1.32" stroke="#444" stroke-width="0.8"/>
<text x="878.3" y="362.8" font-size="6" text-anchor="middle" fill="#1a1a1a">100</text>
<text x="924.12" y="362.8" font-size="6" text-anchor="middle" fill="#1a1a1a">200</text>
<text x="969.94" y="362.8" font-size="6" text-anchor="middle" fill="#1a1a1a">300</text>
<text x="1015.76" y="362.8" font-size="6" text-anchor="middle" fill="#1a1a1a">400</text>
<text x="1061.58" y="362.8" font-size="6" text-anchor="middle" fill="#1a1a1a">500</text>
<text x="1107.4" y="362.8" font-size="6" text-anchor="middle" fill="#1a1a1a">600</text>
<text x="875.7" y="357.48" font-size="6" text-anchor="end" fill="#1a1a1a">0.02</text>
<text x="875.7" y="337.66" font-size="6" text-anchor="end" fill="#1a1a1a">0.04</text>
<text x="875.7" y="317.85" font-size="6" text-anchor="end" fill="#1a1a1a">0.06</text>
<text x="875.7" y="298.03" font-size="6" text-anchor="end" fill="#1a1a1a">0.08</text>
<text x="875.7" y="278.21" font-size="6" text-anchor="end" fill="#1a1a1a">0.10</text>
<text x="875.7" y="258.4" font-size="6" text-anchor="end" fill="#1a1a1a">0.12</text>
<text x="875.7" y="238.58" font-size="6" text-anchor="end" fill="#1a1a1a">0.14</text>
<path d="M878.3 308.93L900.98 303.68L923.66 298.84L946.34 294.4L969.02 290.37L991.7 286.74L1014.39 283.53L1037.07 280.72L1059.75 278.31L1082.43 276.32L1105.11 274.73" fill="none" stroke="#e05a32" stroke-width="1.7" stroke-linecap="butt" stroke-dasharray="6.3 6.4"/>
<path d="M878.3 345.39L901.21 344.89L924.12 344.42L947.03 343.99L969.94 343.6L992.85 343.24L1015.76 342.91L1038.67 342.63L1061.58 342.37L1084.49 342.16L1107.4 341.98" fill="none" stroke="#f7ad5c" stroke-width="1.3" stroke-linecap="butt"/>
<path d="M878.3 302.99L901.21 296.07L924.12 289.61L947.03 283.58L969.94 278L992.85 272.87L1015.76 268.18L1038.67 263.94L1061.58 260.13L1084.49 256.78L1107.4 253.87" fill="none" stroke="#3a6cc8" stroke-width="1.7" stroke-linecap="round" stroke-dasharray="0.01 7.9"/>
<path d="M878.3 339.75L901.21 338.62L924.12 337.57L947.03 336.59L969.94 335.7L992.85 334.89L1015.76 334.16L1038.67 333.5L1061.58 332.93L1084.49 332.43L1107.4 332.02" fill="none" stroke="#5ba3d3" stroke-width="1.6" stroke-linecap="butt" stroke-dasharray="7 3 1.6 3"/>
<rect x="886.2" y="235.3" width="164.2" height="21.2" fill="#fff" stroke="#c8c8c8" stroke-width="0.7"/>
<path d="M887.2 240.9L903 240.9" fill="none" stroke="#e05a32" stroke-width="1.7" stroke-linecap="butt" stroke-dasharray="4.6 6.4 6.3 6.4"/>
<path d="M887.2 250.6L903 250.6" fill="none" stroke="#f7ad5c" stroke-width="1.3" stroke-linecap="butt"/>
<path d="M974.3 240.9L985 240.9" fill="none" stroke="#3a6cc8" stroke-width="1.7" stroke-linecap="round" stroke-dasharray="0.01 7.9"/>
<path d="M972.9 250.6L985 250.6" fill="none" stroke="#5ba3d3" stroke-width="1.6" stroke-linecap="butt" stroke-dasharray="7 3 1.6 3"/>
<text x="904.2" y="243.4" font-size="7" fill="#1e1e1e" textLength="59.1" lengthAdjust="spacingAndGlyphs"><tspan font-style="italic">R</tspan><tspan font-size="4.8" font-style="italic" dy="1.3">a</tspan><tspan dy="-1.3">=10, </tspan><tspan font-style="italic">K</tspan>=3.4&#160;&#160; mm/h</text>
<text x="904.2" y="253.1" font-size="7" fill="#1e1e1e" textLength="59.1" lengthAdjust="spacingAndGlyphs"><tspan font-style="italic">R</tspan><tspan font-size="4.8" font-style="italic" dy="1.3">a</tspan><tspan dy="-1.3">=10, </tspan><tspan font-style="italic">K</tspan>=10.9 mm/h</text>
<text x="990.6" y="243.4" font-size="7" fill="#1e1e1e" textLength="58.7" lengthAdjust="spacingAndGlyphs"><tspan font-style="italic">R</tspan><tspan font-size="4.8" font-style="italic" dy="1.3">a</tspan><tspan dy="-1.3">=15, </tspan><tspan font-style="italic">K</tspan>=3.4&#160;&#160; mm/h</text>
<text x="990.6" y="253.1" font-size="7" fill="#1e1e1e" textLength="58.7" lengthAdjust="spacingAndGlyphs"><tspan font-style="italic">R</tspan><tspan font-size="4.8" font-style="italic" dy="1.3">a</tspan><tspan dy="-1.3">=15, </tspan><tspan font-style="italic">K</tspan>=10.9 mm/h</text>
<text x="994.5" y="373.7" font-size="6.9" text-anchor="middle" fill="#1e1e1e">depth of storage layer <tspan font-style="italic">H</tspan><tspan font-size="4.8" font-style="italic" dy="1.8">s</tspan><tspan dy="-1.8"> (mm)</tspan></text>
<text x="0" y="0" font-size="7" text-anchor="middle" fill="#1e1e1e" transform="translate(862.6 296) rotate(-90)">mean water content &lt;<tspan font-style="italic">s</tspan>&gt;</text>
<path d="M878.5 410.1V528.7H1120.5" fill="none" stroke="#555" stroke-width="1.2"/>
<path d="M878.5 528.7h2.2M878.5 516.84h2.2M878.5 504.98h2.2M878.5 493.12h2.2M878.5 481.26h2.2M878.5 469.4h2.2M878.5 457.54h2.2M878.5 445.68h2.2M878.5 433.82h2.2M878.5 421.96h2.2M878.5 410.1h2.2M908.8 528.7v2M969 528.7v2M1029.6 528.7v2M1089.8 528.7v2" stroke="#444" stroke-width="0.8"/>
<text x="875.9" y="530.8" font-size="6.4" text-anchor="end" fill="#1e1e1e">0.00</text>
<text x="875.9" y="518.94" font-size="6.4" text-anchor="end" fill="#1e1e1e">0.04</text>
<text x="875.9" y="507.08" font-size="6.4" text-anchor="end" fill="#1e1e1e">0.08</text>
<text x="875.9" y="495.22" font-size="6.4" text-anchor="end" fill="#1e1e1e">0.12</text>
<text x="875.9" y="483.36" font-size="6.4" text-anchor="end" fill="#1e1e1e">0.16</text>
<text x="875.9" y="471.5" font-size="6.4" text-anchor="end" fill="#1e1e1e">0.20</text>
<text x="875.9" y="459.64" font-size="6.4" text-anchor="end" fill="#1e1e1e">0.24</text>
<text x="875.9" y="447.78" font-size="6.4" text-anchor="end" fill="#1e1e1e">0.28</text>
<text x="875.9" y="435.92" font-size="6.4" text-anchor="end" fill="#1e1e1e">0.32</text>
<text x="875.9" y="424.06" font-size="6.4" text-anchor="end" fill="#1e1e1e">0.36</text>
<text x="875.9" y="412.2" font-size="6.4" text-anchor="end" fill="#1e1e1e">0.40</text>
<rect x="890.9" y="453.98" width="10.8" height="74.12" fill="#93bcd7"/>
<rect x="903.45" y="477.11" width="10.8" height="50.99" fill="#fdc386"/>
<rect x="916" y="503.79" width="10.8" height="24.31" fill="#ef8771"/>
<rect x="951.1" y="433.82" width="10.8" height="94.28" fill="#93bcd7"/>
<rect x="963.65" y="460.8" width="10.8" height="67.3" fill="#fdc386"/>
<rect x="976.2" y="488.08" width="10.8" height="40.02" fill="#ef8771"/>
<rect x="1011.7" y="423.74" width="10.8" height="104.36" fill="#93bcd7"/>
<rect x="1024.25" y="452.2" width="10.8" height="75.9" fill="#fdc386"/>
<rect x="1036.8" y="476.81" width="10.8" height="51.29" fill="#ef8771"/>
<rect x="1071.9" y="418.7" width="10.8" height="109.4" fill="#93bcd7"/>
<rect x="1084.45" y="447.76" width="10.8" height="80.34" fill="#fdc386"/>
<rect x="1097" y="468.81" width="10.8" height="59.29" fill="#ef8771"/>
<text x="908.8" y="538.3" font-size="6.4" text-anchor="middle" fill="#1e1e1e">5</text>
<text x="969" y="538.3" font-size="6.4" text-anchor="middle" fill="#1e1e1e">10</text>
<text x="1029.6" y="538.3" font-size="6.4" text-anchor="middle" fill="#1e1e1e">15</text>
<text x="1089.8" y="538.3" font-size="6.4" text-anchor="middle" fill="#1e1e1e">20</text>
<text x="999.4" y="549.7" font-size="7.4" fill="#1e1e1e" text-anchor="middle"><tspan font-style="italic">R</tspan><tspan font-size="5" font-style="italic" dy="1.3">a</tspan></text>
<text x="0" y="0" font-size="6.7" text-anchor="middle" fill="#1e1e1e" transform="translate(862 469.8) rotate(-90)">processing time fraction</text>
<rect x="889.4" y="408.5" width="50.4" height="26.2" fill="#fff" stroke="#c8c8c8" stroke-width="0.7"/>
<rect x="890.2" y="409.8" width="15.3" height="7.2" fill="#93bcd7"/>
<text x="907.4" y="415.7" font-size="7" fill="#1e1e1e">Guangzhou</text>
<rect x="890.2" y="418.1" width="15.3" height="7.2" fill="#fdc386"/>
<text x="907.4" y="424" font-size="7" fill="#1e1e1e">Jinan</text>
<rect x="890.2" y="426.7" width="15.3" height="7.2" fill="#ef8771"/>
<text x="907.4" y="432.6" font-size="7" fill="#1e1e1e">Lanzhou</text>
</svg>
</body></html>
